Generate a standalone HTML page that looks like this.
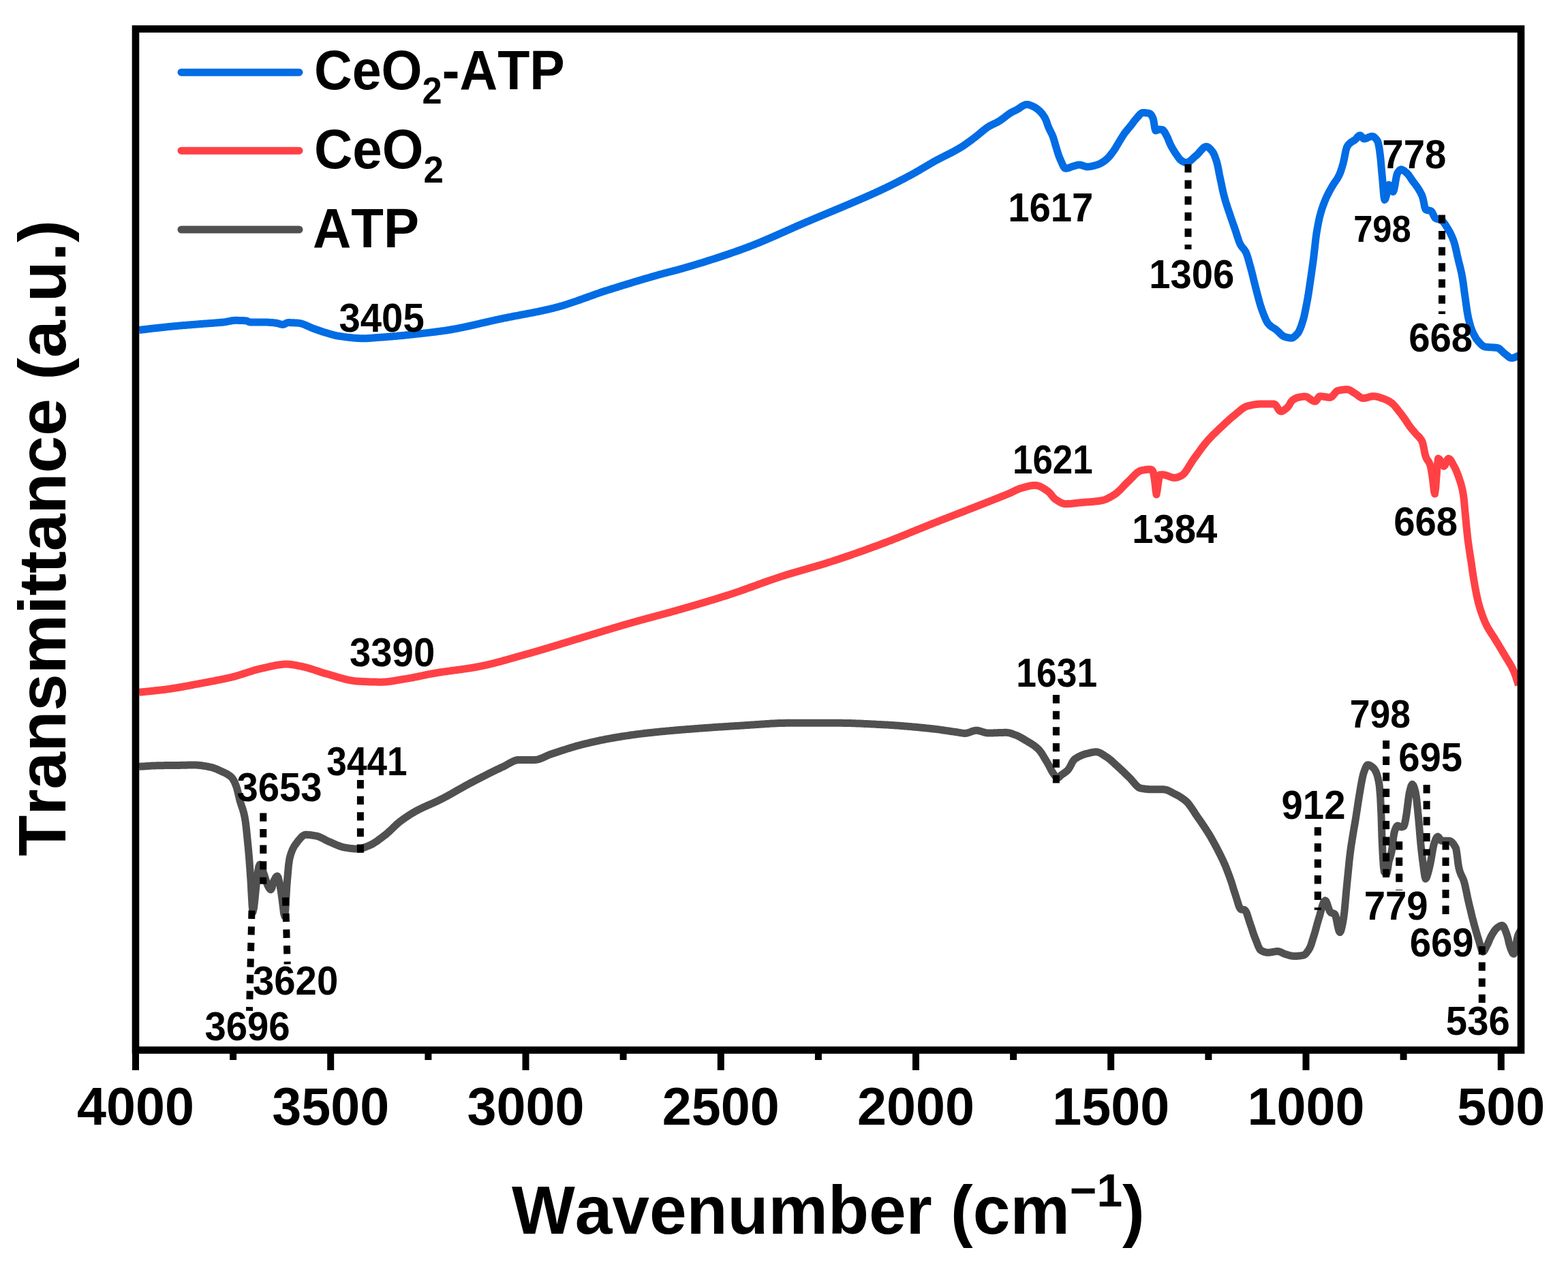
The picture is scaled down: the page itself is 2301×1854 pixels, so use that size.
<!DOCTYPE html>
<html><head><meta charset="utf-8"><title>FTIR spectra</title><style>
html,body{margin:0;padding:0;background:#fff;overflow:hidden;}
svg{display:block;}
text{font-family:"Liberation Sans",Arial,sans-serif;font-weight:bold;fill:#000;font-kerning:none;}
</style></head><body>
<svg width="2301" height="1854" viewBox="0 0 2301 1854">
<rect x="0" y="0" width="2301" height="1854" fill="#fff"/>
<polyline points="204.0,1125.3 205.4,1125.2 206.9,1125.1 208.3,1125.0 209.7,1125.0 211.1,1124.9 212.6,1124.8 214.0,1124.7 215.4,1124.6 216.8,1124.5 218.3,1124.4 219.7,1124.3 221.1,1124.2 222.5,1124.1 224.0,1124.1 225.4,1124.0 226.8,1123.9 228.2,1123.9 229.7,1123.8 231.1,1123.8 232.6,1123.8 234.1,1123.7 235.5,1123.7 237.0,1123.7 238.5,1123.7 240.0,1123.7 241.5,1123.6 242.9,1123.6 244.4,1123.6 245.9,1123.6 247.4,1123.6 248.9,1123.6 250.4,1123.5 251.8,1123.5 253.3,1123.5 254.8,1123.5 256.3,1123.5 257.8,1123.5 259.2,1123.4 260.7,1123.4 262.2,1123.4 263.7,1123.4 265.1,1123.3 266.6,1123.3 268.1,1123.3 269.5,1123.3 271.0,1123.2 272.4,1123.2 273.9,1123.2 275.4,1123.1 276.8,1123.1 278.3,1123.1 279.8,1123.0 281.2,1123.0 282.7,1123.0 284.1,1123.0 285.6,1123.0 287.1,1123.0 288.5,1123.1 290.0,1123.2 291.4,1123.3 292.9,1123.4 294.3,1123.6 295.8,1123.7 297.2,1124.0 298.7,1124.2 300.2,1124.4 301.6,1124.7 303.1,1124.9 304.5,1125.2 306.0,1125.5 307.4,1125.8 308.9,1126.1 310.3,1126.4 311.7,1126.8 313.1,1127.2 314.5,1127.7 315.9,1128.3 317.4,1128.8 318.8,1129.4 320.2,1130.1 321.6,1130.7 323.0,1131.3 324.4,1132.0 325.8,1132.6 327.2,1133.3 328.7,1133.9 330.1,1134.6 331.5,1135.3 332.9,1136.0 334.3,1136.9 335.7,1137.8 337.2,1138.8 338.6,1140.0 340.0,1141.3 341.4,1143.0 342.8,1145.3 344.2,1148.1 345.6,1151.4 347.0,1155.0 348.2,1159.1 349.5,1164.4 350.8,1169.9 352.0,1175.0 353.4,1179.7 354.8,1183.8 356.2,1187.9 357.6,1192.8 359.0,1198.9 360.4,1207.3 361.7,1218.5 363.0,1231.5 364.4,1245.5 365.6,1259.5 366.8,1275.4 368.0,1292.2 369.0,1310.7 370.1,1330.0 371.1,1338.9 372.6,1332.3 374.0,1320.0 375.5,1304.6 377.0,1290.0 378.4,1280.3 379.8,1272.3 381.2,1269.0 382.6,1270.1 383.9,1272.9 385.3,1276.8 386.6,1281.0 388.0,1285.0 389.2,1288.8 390.5,1293.0 391.8,1297.0 393.0,1300.0 394.5,1302.8 396.0,1305.1 397.5,1306.0 399.0,1303.3 400.5,1297.7 402.0,1293.0 403.2,1290.6 404.4,1288.3 405.7,1286.7 406.9,1286.0 408.3,1288.2 409.6,1293.6 411.0,1300.0 412.5,1309.2 414.0,1320.0 415.3,1330.2 416.5,1340.5 417.8,1345.1 418.8,1336.1 419.9,1317.2 420.9,1300.0 422.2,1284.2 423.5,1270.0 424.8,1261.0 426.2,1255.6 427.7,1251.1 429.1,1247.4 430.6,1244.4 432.0,1241.9 433.5,1239.8 434.9,1237.8 436.3,1236.0 437.7,1234.1 439.1,1232.4 440.5,1230.7 441.9,1229.2 443.3,1227.9 444.7,1226.8 446.1,1226.0 447.5,1225.5 448.9,1225.3 450.3,1225.3 451.7,1225.4 453.1,1225.5 454.5,1225.6 455.9,1225.8 457.4,1226.0 458.8,1226.2 460.2,1226.4 461.6,1226.7 463.0,1226.9 464.4,1227.2 465.8,1227.5 467.3,1228.0 468.7,1228.5 470.2,1229.1 471.6,1229.8 473.1,1230.5 474.5,1231.3 476.0,1232.0 477.4,1232.8 478.9,1233.6 480.3,1234.3 481.8,1235.0 483.2,1235.6 484.6,1236.2 486.1,1236.8 487.6,1237.5 489.0,1238.1 490.4,1238.7 491.9,1239.4 493.3,1240.0 494.8,1240.6 496.2,1241.2 497.7,1241.8 499.1,1242.3 500.6,1242.8 502.0,1243.2 503.5,1243.6 504.9,1243.9 506.4,1244.2 507.8,1244.4 509.3,1244.6 510.7,1244.9 512.1,1245.1 513.6,1245.3 515.0,1245.4 516.4,1245.6 517.8,1245.7 519.3,1245.9 520.7,1246.0 522.1,1246.0 523.6,1246.1 525.0,1246.1 526.5,1246.0 527.9,1245.9 529.4,1245.6 530.9,1245.2 532.4,1244.8 533.8,1244.3 535.3,1243.7 536.8,1243.2 538.3,1242.6 539.7,1242.0 541.2,1241.4 542.7,1240.8 544.1,1240.1 545.6,1239.4 547.0,1238.6 548.5,1237.7 549.9,1236.8 551.4,1235.9 552.8,1234.9 554.2,1233.9 555.7,1232.8 557.1,1231.8 558.6,1230.7 560.0,1229.6 561.5,1228.5 562.9,1227.4 564.4,1226.3 565.9,1225.2 567.3,1224.0 568.8,1222.7 570.2,1221.4 571.6,1220.1 573.1,1218.7 574.5,1217.3 576.0,1215.9 577.5,1214.5 578.9,1213.1 580.4,1211.7 581.8,1210.4 583.2,1209.1 584.7,1207.8 586.1,1206.6 587.6,1205.5 589.1,1204.4 590.5,1203.4 592.0,1202.3 593.4,1201.3 594.9,1200.3 596.3,1199.3 597.8,1198.3 599.2,1197.4 600.6,1196.4 602.1,1195.5 603.5,1194.6 605.0,1193.7 606.4,1192.9 607.9,1192.0 609.3,1191.2 610.8,1190.4 612.2,1189.6 613.7,1188.8 615.1,1188.1 616.6,1187.4 618.0,1186.7 619.5,1186.0 620.9,1185.3 622.4,1184.6 623.9,1184.0 625.3,1183.3 626.8,1182.7 628.2,1182.0 629.6,1181.4 631.1,1180.8 632.5,1180.1 634.0,1179.5 635.5,1178.9 636.9,1178.2 638.4,1177.6 639.8,1176.9 641.2,1176.2 642.7,1175.5 644.1,1174.8 645.6,1174.1 647.1,1173.3 648.6,1172.6 650.1,1171.8 651.6,1171.0 653.1,1170.2 654.6,1169.4 656.1,1168.6 657.6,1167.8 659.1,1166.9 660.6,1166.1 662.1,1165.3 663.6,1164.4 665.1,1163.6 666.6,1162.7 668.1,1161.9 669.5,1161.0 671.0,1160.2 672.5,1159.3 674.0,1158.5 675.5,1157.6 677.0,1156.8 678.5,1156.0 680.0,1155.1 681.5,1154.3 683.0,1153.4 684.5,1152.6 686.0,1151.8 687.5,1151.0 689.0,1150.2 690.5,1149.4 692.0,1148.6 693.5,1147.8 695.0,1147.0 696.5,1146.3 698.0,1145.5 699.5,1144.7 701.0,1143.9 702.5,1143.1 704.0,1142.4 705.5,1141.6 707.0,1140.8 708.5,1140.1 710.0,1139.3 711.5,1138.5 713.0,1137.8 714.5,1137.0 715.9,1136.2 717.4,1135.5 718.9,1134.7 720.4,1134.0 721.9,1133.3 723.4,1132.5 724.9,1131.8 726.4,1131.1 727.9,1130.3 729.4,1129.6 730.9,1128.9 732.4,1128.2 733.9,1127.5 735.4,1126.8 736.9,1126.1 738.4,1125.4 739.9,1124.7 741.3,1124.0 742.8,1123.2 744.2,1122.3 745.6,1121.5 747.1,1120.7 748.5,1119.9 750.0,1119.1 751.5,1118.3 752.9,1117.6 754.4,1117.0 755.8,1116.5 757.2,1116.0 758.7,1115.7 760.1,1115.5 761.6,1115.4 763.1,1115.4 764.5,1115.4 766.0,1115.4 767.4,1115.4 768.9,1115.4 770.3,1115.4 771.8,1115.4 773.2,1115.4 774.6,1115.4 776.1,1115.4 777.5,1115.4 779.0,1115.4 780.4,1115.4 781.9,1115.4 783.3,1115.4 784.8,1115.4 786.2,1115.3 787.7,1115.2 789.1,1114.9 790.6,1114.5 792.0,1114.0 793.5,1113.5 794.9,1112.9 796.4,1112.3 797.9,1111.7 799.3,1111.0 800.8,1110.3 802.2,1109.6 803.6,1109.0 805.1,1108.4 806.5,1107.8 808.0,1107.3 809.5,1106.8 811.0,1106.3 812.5,1105.8 814.0,1105.3 815.5,1104.8 817.0,1104.3 818.5,1103.8 820.0,1103.3 821.5,1102.8 823.0,1102.3 824.5,1101.8 826.0,1101.3 827.5,1100.9 829.0,1100.4 830.5,1099.9 831.9,1099.4 833.4,1098.9 834.9,1098.5 836.4,1098.0 837.9,1097.5 839.4,1097.1 840.9,1096.6 842.4,1096.2 843.9,1095.8 845.4,1095.3 846.9,1094.9 848.4,1094.5 849.9,1094.1 851.4,1093.7 852.9,1093.3 854.4,1092.9 855.9,1092.5 857.4,1092.2 858.9,1091.8 860.4,1091.4 861.9,1091.1 863.4,1090.7 864.9,1090.3 866.4,1090.0 867.9,1089.6 869.4,1089.3 870.9,1089.0 872.4,1088.6 873.9,1088.3 875.4,1088.0 876.9,1087.6 878.3,1087.3 879.8,1087.0 881.3,1086.7 882.8,1086.4 884.3,1086.1 885.8,1085.8 887.3,1085.5 888.8,1085.2 890.3,1084.9 891.8,1084.6 893.3,1084.3 894.8,1084.1 896.3,1083.8 897.8,1083.5 899.3,1083.3 900.8,1083.0 902.3,1082.7 903.8,1082.5 905.3,1082.2 906.8,1082.0 908.3,1081.8 909.7,1081.5 911.2,1081.3 912.7,1081.0 914.2,1080.8 915.7,1080.6 917.2,1080.3 918.7,1080.1 920.2,1079.9 921.7,1079.7 923.2,1079.5 924.7,1079.2 926.1,1079.0 927.6,1078.8 929.1,1078.6 930.6,1078.4 932.1,1078.2 933.6,1078.0 935.1,1077.8 936.6,1077.6 938.1,1077.4 939.6,1077.2 941.1,1077.1 942.5,1076.9 944.0,1076.7 945.5,1076.5 947.0,1076.3 948.5,1076.2 950.0,1076.0 951.5,1075.8 953.0,1075.7 954.4,1075.5 955.9,1075.4 957.4,1075.2 958.9,1075.0 960.4,1074.9 961.8,1074.7 963.3,1074.6 964.8,1074.4 966.3,1074.3 967.8,1074.1 969.3,1074.0 970.7,1073.8 972.2,1073.7 973.7,1073.6 975.2,1073.4 976.7,1073.3 978.1,1073.1 979.6,1073.0 981.1,1072.9 982.6,1072.7 984.1,1072.6 985.5,1072.5 987.0,1072.4 988.5,1072.2 990.0,1072.1 991.5,1072.0 992.9,1071.8 994.4,1071.7 995.9,1071.6 997.4,1071.5 998.9,1071.3 1000.3,1071.2 1001.8,1071.1 1003.3,1071.0 1004.8,1070.9 1006.3,1070.7 1007.8,1070.6 1009.2,1070.5 1010.7,1070.4 1012.2,1070.3 1013.7,1070.2 1015.2,1070.0 1016.6,1069.9 1018.1,1069.8 1019.6,1069.7 1021.1,1069.6 1022.6,1069.5 1024.0,1069.4 1025.5,1069.2 1027.0,1069.1 1028.5,1069.0 1030.0,1068.9 1031.4,1068.8 1032.9,1068.7 1034.4,1068.6 1035.9,1068.5 1037.4,1068.4 1038.9,1068.3 1040.3,1068.2 1041.8,1068.1 1043.3,1068.0 1044.8,1067.9 1046.3,1067.7 1047.7,1067.6 1049.2,1067.5 1050.7,1067.4 1052.2,1067.3 1053.7,1067.2 1055.1,1067.1 1056.6,1067.0 1058.1,1066.9 1059.6,1066.9 1061.1,1066.8 1062.5,1066.7 1064.0,1066.6 1065.5,1066.5 1067.0,1066.4 1068.5,1066.3 1069.9,1066.2 1071.4,1066.1 1072.9,1066.0 1074.4,1065.9 1075.9,1065.8 1077.4,1065.7 1078.8,1065.6 1080.3,1065.5 1081.8,1065.4 1083.3,1065.4 1084.8,1065.3 1086.2,1065.2 1087.7,1065.1 1089.2,1065.0 1090.7,1064.9 1092.2,1064.8 1093.6,1064.7 1095.1,1064.6 1096.6,1064.5 1098.1,1064.4 1099.6,1064.3 1101.0,1064.2 1102.5,1064.1 1104.0,1064.0 1105.5,1063.9 1107.0,1063.8 1108.5,1063.7 1109.9,1063.6 1111.4,1063.5 1112.9,1063.4 1114.4,1063.3 1115.9,1063.2 1117.3,1063.1 1118.8,1063.0 1120.3,1062.9 1121.8,1062.8 1123.3,1062.7 1124.7,1062.6 1126.2,1062.5 1127.7,1062.4 1129.2,1062.3 1130.7,1062.2 1132.1,1062.1 1133.6,1062.1 1135.1,1062.0 1136.6,1061.9 1138.1,1061.8 1139.5,1061.8 1141.0,1061.7 1142.5,1061.6 1144.0,1061.6 1145.5,1061.5 1147.0,1061.5 1148.4,1061.4 1149.9,1061.4 1151.4,1061.4 1152.9,1061.3 1154.4,1061.3 1155.8,1061.3 1157.3,1061.3 1158.8,1061.3 1160.3,1061.3 1161.8,1061.3 1163.2,1061.3 1164.7,1061.3 1166.2,1061.3 1167.7,1061.3 1169.2,1061.3 1170.6,1061.3 1172.1,1061.3 1173.6,1061.3 1175.1,1061.3 1176.6,1061.3 1178.1,1061.3 1179.5,1061.3 1181.0,1061.3 1182.5,1061.3 1184.0,1061.3 1185.5,1061.3 1186.9,1061.3 1188.4,1061.3 1189.9,1061.3 1191.4,1061.3 1192.9,1061.3 1194.3,1061.3 1195.8,1061.3 1197.3,1061.3 1198.8,1061.3 1200.3,1061.3 1201.7,1061.3 1203.2,1061.3 1204.7,1061.3 1206.2,1061.3 1207.7,1061.3 1209.1,1061.3 1210.6,1061.3 1212.1,1061.3 1213.6,1061.3 1215.1,1061.3 1216.6,1061.3 1218.0,1061.3 1219.5,1061.3 1221.0,1061.3 1222.5,1061.3 1224.0,1061.3 1225.4,1061.3 1226.9,1061.3 1228.4,1061.3 1229.9,1061.3 1231.4,1061.3 1232.8,1061.3 1234.3,1061.3 1235.8,1061.3 1237.3,1061.4 1238.8,1061.4 1240.2,1061.4 1241.7,1061.4 1243.2,1061.5 1244.7,1061.5 1246.2,1061.5 1247.7,1061.6 1249.1,1061.6 1250.6,1061.7 1252.1,1061.7 1253.6,1061.8 1255.1,1061.8 1256.5,1061.9 1258.0,1061.9 1259.5,1062.0 1261.0,1062.1 1262.5,1062.1 1263.9,1062.2 1265.4,1062.2 1266.9,1062.3 1268.4,1062.4 1269.9,1062.5 1271.3,1062.5 1272.8,1062.6 1274.3,1062.7 1275.8,1062.7 1277.3,1062.8 1278.7,1062.9 1280.2,1063.0 1281.7,1063.0 1283.2,1063.1 1284.7,1063.2 1286.2,1063.3 1287.6,1063.4 1289.1,1063.4 1290.6,1063.5 1292.1,1063.6 1293.6,1063.7 1295.0,1063.7 1296.5,1063.8 1298.0,1063.9 1299.5,1064.0 1301.0,1064.1 1302.4,1064.1 1303.9,1064.2 1305.4,1064.3 1306.9,1064.4 1308.4,1064.5 1309.8,1064.6 1311.3,1064.7 1312.8,1064.8 1314.3,1064.9 1315.8,1065.0 1317.3,1065.1 1318.7,1065.2 1320.2,1065.3 1321.7,1065.4 1323.2,1065.5 1324.7,1065.7 1326.1,1065.8 1327.6,1065.9 1329.1,1066.0 1330.6,1066.1 1332.1,1066.3 1333.5,1066.4 1335.0,1066.5 1336.5,1066.6 1338.0,1066.8 1339.5,1066.9 1340.9,1067.0 1342.4,1067.2 1343.9,1067.3 1345.4,1067.5 1346.9,1067.6 1348.3,1067.7 1349.8,1067.9 1351.3,1068.0 1352.8,1068.2 1354.3,1068.3 1355.8,1068.5 1357.2,1068.6 1358.7,1068.8 1360.2,1068.9 1361.7,1069.1 1363.2,1069.2 1364.6,1069.4 1366.1,1069.5 1367.6,1069.7 1369.0,1069.9 1370.5,1070.0 1371.9,1070.2 1373.4,1070.4 1374.8,1070.6 1376.3,1070.7 1377.8,1070.9 1379.2,1071.1 1380.7,1071.3 1382.1,1071.6 1383.5,1071.8 1385.0,1072.0 1386.5,1072.2 1387.9,1072.4 1389.3,1072.6 1390.8,1072.8 1392.2,1073.0 1393.7,1073.3 1395.2,1073.5 1396.6,1073.7 1398.1,1073.9 1399.5,1074.1 1401.0,1074.3 1402.4,1074.5 1403.8,1074.7 1405.2,1074.9 1406.6,1075.2 1408.0,1075.4 1409.4,1075.7 1410.8,1075.9 1412.2,1076.1 1413.6,1076.3 1415.0,1076.4 1416.4,1076.4 1417.9,1076.3 1419.3,1076.0 1420.8,1075.6 1422.3,1075.1 1423.8,1074.6 1425.2,1074.0 1426.7,1073.5 1428.2,1073.0 1429.7,1072.6 1431.1,1072.3 1432.6,1072.2 1434.0,1072.3 1435.5,1072.5 1436.9,1072.8 1438.4,1073.2 1439.8,1073.6 1441.3,1074.1 1442.8,1074.6 1444.2,1075.0 1445.7,1075.4 1447.1,1075.7 1448.5,1075.9 1450.0,1076.0 1451.5,1076.0 1453.0,1076.0 1454.5,1075.9 1456.0,1075.9 1457.4,1075.9 1458.9,1075.8 1460.4,1075.8 1461.9,1075.7 1463.4,1075.7 1464.9,1075.6 1466.4,1075.5 1467.9,1075.5 1469.4,1075.4 1470.8,1075.4 1472.3,1075.4 1473.8,1075.3 1475.3,1075.3 1476.8,1075.3 1478.3,1075.4 1479.8,1075.6 1481.2,1075.9 1482.7,1076.3 1484.2,1076.8 1485.7,1077.3 1487.1,1077.8 1488.6,1078.4 1490.1,1078.9 1491.5,1079.4 1492.9,1080.0 1494.3,1080.6 1495.7,1081.3 1497.1,1082.1 1498.4,1082.8 1499.8,1083.6 1501.2,1084.4 1502.6,1085.3 1504.0,1086.1 1505.4,1087.0 1506.8,1087.8 1508.2,1088.6 1509.6,1089.5 1511.0,1090.3 1512.4,1091.1 1513.8,1092.0 1515.2,1092.9 1516.5,1093.8 1517.9,1094.8 1519.3,1095.9 1520.7,1097.0 1522.1,1098.2 1523.5,1099.5 1525.0,1101.1 1526.5,1102.9 1528.0,1105.0 1529.5,1107.2 1530.9,1109.6 1532.4,1112.1 1533.9,1114.6 1535.4,1117.0 1536.9,1119.5 1538.3,1122.0 1539.8,1124.7 1541.2,1127.4 1542.6,1130.2 1544.0,1132.8 1545.5,1135.1 1546.9,1137.1 1548.2,1138.7 1549.5,1140.3 1550.7,1141.5 1552.0,1142.0 1553.2,1141.6 1554.5,1140.5 1555.8,1139.2 1557.0,1138.0 1558.4,1136.9 1559.9,1136.0 1561.3,1135.0 1562.7,1134.0 1564.1,1133.0 1565.6,1131.8 1567.0,1130.4 1568.4,1128.6 1569.9,1126.2 1571.3,1123.5 1572.7,1120.7 1574.1,1118.1 1575.6,1116.0 1577.0,1114.5 1578.4,1113.5 1579.9,1112.6 1581.3,1111.7 1582.7,1110.9 1584.1,1110.2 1585.6,1109.5 1587.0,1108.9 1588.4,1108.3 1589.9,1107.8 1591.3,1107.3 1592.7,1106.8 1594.1,1106.4 1595.6,1106.1 1597.0,1105.7 1598.5,1105.3 1599.9,1105.0 1601.4,1104.7 1602.8,1104.4 1604.3,1104.1 1605.8,1103.9 1607.2,1103.7 1608.7,1103.7 1610.1,1103.8 1611.4,1104.1 1612.8,1104.6 1614.2,1105.2 1615.6,1105.9 1616.9,1106.7 1618.3,1107.6 1619.7,1108.5 1621.1,1109.4 1622.4,1110.3 1623.8,1111.2 1625.2,1112.1 1626.6,1113.1 1628.0,1114.2 1629.4,1115.3 1630.8,1116.5 1632.2,1117.7 1633.5,1119.0 1634.9,1120.3 1636.3,1121.6 1637.7,1122.9 1639.1,1124.1 1640.5,1125.4 1641.9,1126.7 1643.3,1127.9 1644.7,1129.3 1646.1,1130.6 1647.5,1131.9 1648.8,1133.2 1650.2,1134.6 1651.6,1135.9 1653.0,1137.3 1654.4,1138.6 1655.8,1140.0 1657.2,1141.3 1658.6,1142.7 1660.0,1144.2 1661.4,1145.9 1662.8,1147.5 1664.2,1149.2 1665.6,1150.8 1666.9,1152.3 1668.3,1153.7 1669.7,1154.9 1671.1,1155.9 1672.5,1156.7 1673.9,1157.1 1675.3,1157.3 1676.7,1157.6 1678.1,1157.8 1679.5,1158.0 1680.9,1158.2 1682.2,1158.3 1683.6,1158.5 1685.0,1158.6 1686.4,1158.7 1687.8,1158.7 1689.2,1158.8 1690.6,1158.8 1692.0,1158.8 1693.4,1158.8 1694.8,1158.8 1696.2,1158.8 1697.6,1158.8 1698.9,1158.8 1700.3,1158.8 1701.7,1158.8 1703.1,1158.8 1704.5,1158.8 1705.9,1158.8 1707.3,1158.8 1708.7,1158.9 1710.1,1159.1 1711.5,1159.5 1712.9,1159.9 1714.3,1160.5 1715.7,1161.1 1717.0,1161.8 1718.4,1162.5 1719.8,1163.3 1721.2,1164.0 1722.6,1164.8 1724.0,1165.5 1725.4,1166.2 1726.8,1166.9 1728.2,1167.7 1729.6,1168.4 1731.0,1169.2 1732.3,1170.1 1733.7,1171.0 1735.1,1171.9 1736.5,1172.9 1737.9,1174.0 1739.3,1175.1 1740.7,1176.3 1742.1,1177.6 1743.5,1179.1 1744.8,1180.8 1746.2,1182.6 1747.6,1184.6 1749.0,1186.6 1750.4,1188.7 1751.8,1190.8 1753.2,1193.0 1754.5,1195.1 1755.9,1197.2 1757.3,1199.2 1758.7,1201.3 1760.2,1203.3 1761.6,1205.4 1763.1,1207.5 1764.5,1209.6 1765.9,1211.7 1767.4,1213.9 1768.8,1216.1 1770.3,1218.3 1771.7,1220.6 1773.2,1222.9 1774.6,1225.2 1776.1,1227.7 1777.6,1230.3 1779.1,1232.9 1780.6,1235.6 1782.1,1238.3 1783.6,1241.1 1785.1,1243.9 1786.6,1246.8 1788.1,1249.7 1789.6,1252.6 1791.1,1255.6 1792.5,1258.6 1794.0,1261.7 1795.5,1264.9 1797.0,1268.3 1798.5,1271.7 1799.9,1275.3 1801.3,1279.0 1802.8,1282.8 1804.2,1286.7 1805.7,1290.8 1807.1,1294.9 1808.5,1299.3 1809.8,1303.8 1811.2,1308.3 1812.6,1312.4 1814.0,1316.9 1815.5,1321.7 1816.9,1326.4 1818.3,1330.5 1819.8,1333.5 1821.2,1334.9 1822.5,1335.2 1823.8,1335.3 1825.1,1335.4 1826.4,1335.7 1827.8,1337.0 1829.3,1339.9 1830.7,1343.9 1832.1,1348.4 1833.6,1353.1 1835.0,1357.3 1836.4,1361.2 1837.8,1365.4 1839.1,1369.6 1840.5,1373.6 1841.9,1377.2 1843.4,1380.9 1844.8,1384.7 1846.2,1388.3 1847.7,1391.5 1849.1,1393.9 1850.6,1395.3 1852.1,1396.0 1853.5,1396.7 1855.0,1397.2 1856.5,1397.7 1858.0,1398.0 1859.4,1398.2 1860.9,1398.3 1862.3,1398.2 1863.7,1398.1 1865.1,1397.9 1866.5,1397.7 1867.8,1397.4 1869.2,1397.1 1870.6,1396.9 1872.0,1396.7 1873.4,1396.6 1874.8,1396.5 1876.1,1396.6 1877.5,1396.9 1878.8,1397.4 1880.2,1398.0 1881.5,1398.6 1882.9,1399.3 1884.2,1399.9 1885.6,1400.5 1886.9,1400.9 1888.4,1401.3 1889.9,1401.8 1891.4,1402.2 1892.9,1402.6 1894.4,1403.0 1895.9,1403.2 1897.4,1403.4 1898.9,1403.5 1900.3,1403.5 1901.7,1403.4 1903.1,1403.4 1904.5,1403.3 1905.8,1403.2 1907.2,1403.0 1908.6,1402.9 1910.0,1402.7 1911.4,1402.4 1912.8,1402.2 1914.2,1401.6 1915.7,1400.5 1917.1,1399.0 1918.5,1397.1 1920.0,1395.0 1921.4,1392.7 1922.8,1389.9 1924.2,1386.2 1925.5,1381.9 1926.9,1377.4 1928.3,1372.9 1929.7,1368.3 1931.1,1363.3 1932.4,1358.3 1933.8,1353.3 1935.2,1348.7 1936.6,1344.1 1937.9,1339.0 1939.3,1334.0 1940.6,1329.3 1942.0,1325.5 1943.3,1322.9 1944.7,1321.9 1946.0,1323.1 1947.3,1326.0 1948.6,1329.9 1949.9,1333.9 1951.2,1337.3 1952.5,1339.2 1953.7,1339.9 1954.9,1340.3 1956.2,1340.6 1957.4,1341.1 1958.6,1341.8 1959.9,1344.4 1961.2,1349.6 1962.4,1355.9 1963.7,1362.1 1965.0,1366.7 1966.3,1368.6 1967.6,1366.8 1968.9,1362.2 1970.2,1355.9 1971.5,1348.7 1972.8,1338.9 1974.1,1325.5 1975.4,1310.8 1976.7,1296.9 1977.9,1285.1 1979.1,1273.3 1980.2,1262.0 1981.4,1252.0 1982.8,1241.6 1984.3,1232.2 1985.7,1223.5 1987.1,1215.1 1988.6,1206.7 1990.0,1198.0 1991.5,1188.3 1993.0,1178.4 1994.5,1168.9 1996.0,1160.0 1997.2,1152.8 1998.5,1145.8 1999.8,1139.6 2001.0,1135.0 2002.3,1131.4 2003.5,1128.1 2004.8,1125.3 2006.0,1123.4 2007.3,1122.7 2008.6,1122.9 2010.0,1123.4 2011.3,1124.1 2012.7,1125.0 2014.0,1126.0 2015.2,1127.1 2016.5,1128.5 2017.7,1130.3 2018.9,1132.5 2020.2,1135.6 2021.6,1139.9 2023.0,1145.9 2024.3,1153.9 2025.7,1170.6 2027.0,1198.0 2028.0,1230.0 2029.1,1253.6 2030.3,1271.9 2031.4,1280.0 2032.6,1281.1 2033.8,1281.8 2035.0,1282.0 2036.5,1275.2 2038.0,1265.0 2039.4,1260.0 2040.7,1255.8 2042.1,1250.4 2043.4,1241.2 2044.7,1229.8 2046.0,1222.0 2047.2,1218.2 2048.5,1215.0 2049.8,1212.8 2051.0,1212.0 2052.2,1212.3 2053.5,1213.0 2054.8,1213.7 2056.0,1214.0 2057.3,1213.9 2058.7,1213.5 2060.0,1212.9 2061.3,1209.6 2062.7,1202.8 2064.0,1195.0 2065.3,1185.2 2066.7,1173.7 2068.0,1165.0 2069.5,1158.5 2071.0,1153.4 2072.5,1151.3 2074.0,1152.8 2075.5,1156.8 2077.0,1162.0 2078.5,1170.7 2079.9,1184.0 2081.4,1198.6 2082.6,1211.9 2083.8,1226.7 2085.0,1240.0 2086.2,1251.1 2087.4,1261.1 2088.6,1270.0 2089.7,1278.7 2090.9,1286.5 2092.0,1290.0 2093.3,1288.4 2094.7,1284.5 2096.0,1280.0 2097.3,1274.9 2098.7,1268.6 2100.0,1262.0 2101.3,1254.3 2102.7,1246.0 2104.0,1240.0 2105.5,1235.6 2107.0,1231.7 2108.5,1229.0 2110.0,1228.0 2111.3,1229.0 2112.7,1231.2 2114.1,1233.3 2115.4,1234.3 2116.7,1234.3 2118.1,1234.3 2119.4,1234.3 2120.7,1234.3 2122.0,1234.3 2123.3,1234.3 2124.7,1234.3 2126.0,1234.3 2127.3,1234.5 2128.7,1235.0 2130.1,1235.9 2131.4,1237.2 2132.8,1238.8 2134.1,1240.8 2135.5,1243.1 2136.8,1245.9 2138.3,1255.6 2139.8,1268.0 2140.9,1274.2 2142.1,1278.9 2143.6,1282.8 2145.0,1285.8 2146.4,1288.7 2147.9,1292.3 2149.4,1297.5 2150.8,1303.8 2152.3,1310.8 2153.7,1317.9 2155.2,1324.5 2156.5,1330.1 2157.9,1335.7 2159.2,1341.2 2160.5,1346.6 2161.9,1351.8 2163.2,1356.8 2164.6,1361.8 2165.9,1366.6 2167.3,1371.2 2168.6,1375.7 2170.0,1380.0 2171.2,1384.2 2172.4,1388.7 2173.7,1392.9 2174.9,1395.9 2176.1,1397.1 2177.6,1396.2 2179.1,1393.9 2180.5,1390.9 2182.0,1388.0 2183.4,1385.2 2184.8,1382.0 2186.2,1378.7 2187.6,1375.6 2189.0,1372.9 2190.3,1370.7 2191.7,1368.5 2193.0,1366.5 2194.3,1364.7 2195.7,1363.2 2197.0,1362.0 2198.5,1361.0 2200.0,1360.0 2201.4,1359.2 2202.9,1358.6 2204.4,1358.4 2205.8,1359.3 2207.3,1361.6 2208.7,1365.0 2210.2,1368.9 2211.6,1372.9 2213.1,1378.3 2214.5,1384.7 2216.0,1390.0 2217.3,1393.6 2218.7,1396.9 2220.0,1399.3 2221.3,1400.3 2222.6,1398.0 2223.9,1392.2 2225.1,1384.9 2226.4,1377.8 2227.7,1372.9 2229.1,1369.8 2230.6,1367.3 2232.0,1364.8" fill="none" stroke="#505050" stroke-width="11" stroke-linejoin="round" stroke-linecap="butt"/>
<polyline points="204.0,1016.3 205.5,1016.1 206.9,1016.0 208.4,1015.8 209.8,1015.7 211.3,1015.5 212.8,1015.4 214.2,1015.2 215.7,1015.1 217.2,1014.9 218.6,1014.8 220.1,1014.6 221.5,1014.5 223.0,1014.3 224.5,1014.2 225.9,1014.0 227.4,1013.8 228.9,1013.7 230.3,1013.5 231.8,1013.4 233.2,1013.2 234.7,1013.0 236.2,1012.9 237.6,1012.7 239.1,1012.5 240.6,1012.4 242.0,1012.2 243.5,1012.0 244.9,1011.8 246.4,1011.6 247.9,1011.4 249.4,1011.2 250.9,1011.0 252.4,1010.7 253.9,1010.5 255.4,1010.3 256.9,1010.0 258.4,1009.8 259.9,1009.5 261.4,1009.3 262.9,1009.0 264.4,1008.8 265.9,1008.5 267.4,1008.3 268.9,1008.0 270.3,1007.7 271.8,1007.4 273.3,1007.2 274.8,1006.9 276.3,1006.6 277.8,1006.3 279.3,1006.0 280.8,1005.8 282.3,1005.5 283.8,1005.2 285.3,1004.9 286.8,1004.6 288.3,1004.3 289.8,1004.1 291.3,1003.8 292.8,1003.5 294.3,1003.2 295.8,1002.9 297.3,1002.7 298.8,1002.4 300.3,1002.1 301.8,1001.8 303.3,1001.6 304.8,1001.3 306.3,1001.0 307.8,1000.7 309.3,1000.4 310.8,1000.1 312.3,999.9 313.8,999.6 315.3,999.3 316.7,999.0 318.2,998.7 319.7,998.4 321.2,998.1 322.7,997.8 324.2,997.5 325.7,997.2 327.2,996.9 328.7,996.6 330.2,996.2 331.7,995.9 333.2,995.6 334.7,995.2 336.2,994.9 337.7,994.6 339.2,994.2 340.7,993.8 342.2,993.5 343.7,993.1 345.2,992.7 346.7,992.2 348.2,991.8 349.7,991.4 351.2,990.9 352.7,990.4 354.2,990.0 355.7,989.5 357.2,989.0 358.7,988.5 360.2,988.1 361.7,987.6 363.1,987.1 364.6,986.6 366.1,986.1 367.6,985.7 369.1,985.2 370.6,984.7 372.1,984.3 373.6,983.8 375.1,983.4 376.6,983.0 378.1,982.6 379.6,982.2 381.1,981.8 382.6,981.5 384.1,981.1 385.6,980.8 387.1,980.5 388.5,980.2 390.0,979.9 391.4,979.5 392.9,979.2 394.3,978.9 395.8,978.5 397.2,978.2 398.6,977.9 400.1,977.6 401.6,977.3 403.0,977.0 404.4,976.7 405.9,976.4 407.4,976.2 408.8,976.0 410.2,975.8 411.7,975.6 413.1,975.4 414.6,975.3 416.0,975.1 417.5,975.1 418.9,975.0 420.4,975.0 421.8,975.0 423.3,975.1 424.8,975.2 426.2,975.3 427.6,975.5 429.1,975.7 430.6,975.9 432.0,976.2 433.4,976.4 434.9,976.7 436.4,977.0 437.8,977.3 439.2,977.6 440.7,977.9 442.2,978.2 443.6,978.5 445.1,978.8 446.5,979.1 448.0,979.5 449.4,979.8 450.9,980.2 452.3,980.6 453.8,981.1 455.2,981.5 456.6,982.0 458.1,982.4 459.6,982.9 461.0,983.4 462.4,983.9 463.9,984.4 465.4,984.8 466.8,985.3 468.2,985.8 469.7,986.3 471.1,986.8 472.6,987.2 474.0,987.7 475.5,988.1 476.9,988.5 478.4,988.9 479.9,989.3 481.4,989.7 482.9,990.1 484.4,990.6 485.9,991.0 487.4,991.5 488.9,991.9 490.4,992.4 491.9,992.8 493.4,993.3 494.9,993.7 496.4,994.2 497.9,994.6 499.4,995.0 500.9,995.5 502.3,995.9 503.8,996.3 505.3,996.7 506.8,997.0 508.3,997.4 509.8,997.8 511.3,998.1 512.8,998.4 514.3,998.7 515.8,998.9 517.3,999.2 518.8,999.4 520.3,999.6 521.8,999.8 523.3,999.9 524.8,1000.0 526.2,1000.1 527.7,1000.2 529.1,1000.2 530.6,1000.3 532.0,1000.4 533.5,1000.5 534.9,1000.5 536.4,1000.6 537.9,1000.7 539.3,1000.7 540.8,1000.8 542.2,1000.9 543.6,1000.9 545.1,1001.0 546.5,1001.0 548.0,1001.0 549.5,1001.1 550.9,1001.1 552.4,1001.1 553.8,1001.2 555.2,1001.2 556.7,1001.2 558.1,1001.2 559.6,1001.2 561.1,1001.2 562.5,1001.1 564.0,1001.1 565.4,1001.0 566.9,1000.9 568.3,1000.7 569.8,1000.6 571.2,1000.4 572.6,1000.2 574.1,1000.0 575.5,999.8 577.0,999.6 578.5,999.3 579.9,999.1 581.4,998.8 582.8,998.6 584.2,998.3 585.7,998.1 587.1,997.8 588.6,997.6 590.0,997.3 591.5,997.1 592.9,996.8 594.4,996.6 595.9,996.4 597.4,996.1 598.9,995.9 600.4,995.6 601.9,995.3 603.4,995.1 604.9,994.8 606.4,994.5 607.9,994.2 609.4,993.9 610.9,993.6 612.4,993.3 613.9,993.0 615.4,992.7 616.9,992.4 618.3,992.1 619.8,991.8 621.3,991.4 622.8,991.1 624.3,990.8 625.8,990.5 627.3,990.2 628.8,989.9 630.3,989.6 631.8,989.3 633.3,989.0 634.8,988.8 636.3,988.5 637.8,988.2 639.3,988.0 640.8,987.7 642.3,987.5 643.8,987.2 645.2,987.0 646.7,986.8 648.2,986.5 649.7,986.3 651.2,986.1 652.6,985.9 654.1,985.7 655.6,985.5 657.1,985.3 658.6,985.1 660.0,984.9 661.5,984.7 663.0,984.5 664.5,984.3 666.0,984.1 667.4,983.9 668.9,983.7 670.4,983.5 671.9,983.3 673.4,983.1 674.8,982.9 676.3,982.7 677.8,982.5 679.3,982.3 680.8,982.1 682.2,981.9 683.7,981.7 685.2,981.4 686.7,981.2 688.2,981.0 689.6,980.8 691.1,980.5 692.6,980.3 694.1,980.0 695.6,979.8 697.0,979.5 698.5,979.3 700.0,979.0 701.5,978.7 703.0,978.4 704.5,978.1 705.9,977.8 707.4,977.5 708.9,977.2 710.4,976.9 711.9,976.6 713.4,976.2 714.8,975.9 716.3,975.6 717.8,975.2 719.3,974.9 720.8,974.5 722.3,974.1 723.7,973.8 725.2,973.4 726.7,973.0 728.2,972.6 729.7,972.2 731.2,971.8 732.6,971.5 734.1,971.1 735.6,970.7 737.1,970.3 738.6,969.8 740.1,969.4 741.6,969.0 743.0,968.6 744.5,968.2 746.0,967.8 747.5,967.4 749.0,966.9 750.5,966.5 751.9,966.1 753.4,965.7 754.9,965.3 756.4,964.8 757.9,964.4 759.4,964.0 760.8,963.6 762.3,963.1 763.8,962.7 765.3,962.3 766.8,961.9 768.3,961.5 769.7,961.0 771.2,960.6 772.7,960.2 774.2,959.8 775.7,959.4 777.2,959.0 778.7,958.6 780.1,958.1 781.6,957.7 783.1,957.3 784.6,956.9 786.1,956.4 787.6,956.0 789.1,955.6 790.5,955.1 792.0,954.7 793.5,954.3 795.0,953.8 796.5,953.4 798.0,952.9 799.5,952.5 800.9,952.0 802.4,951.6 803.9,951.2 805.4,950.7 806.9,950.3 808.4,949.8 809.9,949.4 811.4,948.9 812.8,948.5 814.3,948.0 815.8,947.5 817.3,947.1 818.8,946.6 820.3,946.2 821.8,945.7 823.2,945.3 824.7,944.8 826.2,944.4 827.7,943.9 829.2,943.5 830.7,943.0 832.2,942.6 833.6,942.1 835.1,941.6 836.6,941.2 838.1,940.7 839.6,940.3 841.1,939.8 842.6,939.4 844.0,938.9 845.5,938.5 847.0,938.0 848.5,937.6 850.0,937.2 851.5,936.7 853.0,936.3 854.4,935.8 855.9,935.4 857.4,934.9 858.9,934.5 860.4,934.0 861.9,933.6 863.3,933.1 864.8,932.7 866.3,932.2 867.8,931.8 869.3,931.3 870.8,930.9 872.2,930.4 873.7,930.0 875.2,929.5 876.7,929.0 878.2,928.6 879.7,928.1 881.1,927.7 882.6,927.2 884.1,926.8 885.6,926.3 887.1,925.9 888.6,925.4 890.1,925.0 891.5,924.5 893.0,924.1 894.5,923.6 896.0,923.2 897.5,922.7 899.0,922.3 900.4,921.8 901.9,921.4 903.4,921.0 904.9,920.5 906.4,920.1 907.9,919.6 909.3,919.2 910.8,918.8 912.3,918.3 913.8,917.9 915.3,917.4 916.8,917.0 918.2,916.6 919.7,916.2 921.2,915.7 922.7,915.3 924.2,914.9 925.7,914.5 927.2,914.0 928.6,913.6 930.1,913.2 931.6,912.8 933.1,912.4 934.6,912.0 936.1,911.5 937.6,911.1 939.0,910.7 940.5,910.3 942.0,909.9 943.5,909.5 945.0,909.1 946.5,908.7 948.0,908.3 949.4,907.9 950.9,907.5 952.4,907.1 953.9,906.7 955.4,906.3 956.9,905.9 958.4,905.5 959.9,905.1 961.3,904.7 962.8,904.3 964.3,903.9 965.8,903.5 967.3,903.1 968.8,902.7 970.3,902.3 971.7,901.9 973.2,901.5 974.7,901.1 976.2,900.7 977.7,900.3 979.2,899.9 980.7,899.5 982.1,899.1 983.6,898.7 985.1,898.2 986.6,897.8 988.1,897.4 989.6,897.0 991.1,896.6 992.5,896.2 994.0,895.7 995.5,895.3 997.0,894.9 998.5,894.5 1000.0,894.0 1001.5,893.6 1002.9,893.2 1004.4,892.8 1005.9,892.3 1007.4,891.9 1008.9,891.5 1010.4,891.1 1011.8,890.6 1013.3,890.2 1014.8,889.8 1016.3,889.3 1017.8,888.9 1019.3,888.5 1020.7,888.0 1022.2,887.6 1023.7,887.2 1025.2,886.7 1026.7,886.3 1028.2,885.9 1029.6,885.4 1031.1,885.0 1032.6,884.5 1034.1,884.1 1035.6,883.6 1037.1,883.2 1038.6,882.8 1040.0,882.3 1041.5,881.9 1043.0,881.4 1044.5,881.0 1046.0,880.5 1047.5,880.1 1048.9,879.6 1050.4,879.1 1051.9,878.7 1053.4,878.2 1054.9,877.8 1056.4,877.3 1057.8,876.8 1059.3,876.4 1060.8,875.9 1062.3,875.4 1063.8,875.0 1065.3,874.5 1066.7,874.0 1068.2,873.6 1069.7,873.1 1071.2,872.6 1072.7,872.1 1074.2,871.6 1075.7,871.1 1077.1,870.6 1078.6,870.1 1080.1,869.6 1081.6,869.1 1083.1,868.6 1084.6,868.1 1086.0,867.6 1087.5,867.1 1089.0,866.5 1090.5,866.0 1092.0,865.5 1093.5,865.0 1094.9,864.4 1096.4,863.9 1097.9,863.4 1099.4,862.8 1100.9,862.3 1102.4,861.7 1103.8,861.2 1105.3,860.7 1106.8,860.1 1108.3,859.6 1109.8,859.1 1111.3,858.5 1112.8,858.0 1114.2,857.4 1115.7,856.9 1117.2,856.4 1118.7,855.8 1120.2,855.3 1121.7,854.8 1123.1,854.2 1124.6,853.7 1126.1,853.2 1127.6,852.6 1129.1,852.1 1130.6,851.6 1132.0,851.1 1133.5,850.6 1135.0,850.1 1136.5,849.6 1138.0,849.1 1139.5,848.6 1140.9,848.1 1142.4,847.6 1143.9,847.1 1145.4,846.6 1146.9,846.1 1148.4,845.6 1149.9,845.2 1151.3,844.7 1152.8,844.3 1154.3,843.8 1155.8,843.3 1157.3,842.9 1158.8,842.4 1160.3,842.0 1161.7,841.5 1163.2,841.1 1164.7,840.7 1166.2,840.2 1167.7,839.8 1169.2,839.4 1170.7,838.9 1172.1,838.5 1173.6,838.1 1175.1,837.6 1176.6,837.2 1178.1,836.8 1179.6,836.4 1181.1,835.9 1182.6,835.5 1184.0,835.1 1185.5,834.6 1187.0,834.2 1188.5,833.8 1190.0,833.4 1191.5,832.9 1193.0,832.5 1194.4,832.1 1195.9,831.6 1197.4,831.2 1198.9,830.8 1200.4,830.3 1201.9,829.9 1203.4,829.5 1204.8,829.0 1206.3,828.6 1207.8,828.1 1209.3,827.7 1210.8,827.2 1212.3,826.7 1213.8,826.3 1215.2,825.8 1216.7,825.4 1218.2,824.9 1219.7,824.4 1221.2,823.9 1222.7,823.4 1224.2,823.0 1225.6,822.5 1227.1,822.0 1228.6,821.5 1230.1,821.0 1231.6,820.5 1233.1,820.0 1234.5,819.5 1236.0,819.0 1237.5,818.5 1239.0,818.0 1240.5,817.5 1242.0,817.0 1243.4,816.5 1244.9,816.0 1246.4,815.5 1247.9,815.0 1249.4,814.5 1250.9,813.9 1252.3,813.4 1253.8,812.9 1255.3,812.4 1256.8,811.9 1258.3,811.3 1259.8,810.8 1261.3,810.3 1262.7,809.8 1264.2,809.2 1265.7,808.7 1267.2,808.2 1268.7,807.7 1270.2,807.1 1271.6,806.6 1273.1,806.0 1274.6,805.5 1276.1,805.0 1277.6,804.4 1279.1,803.9 1280.5,803.3 1282.0,802.8 1283.5,802.3 1285.0,801.7 1286.5,801.2 1288.0,800.6 1289.4,800.1 1290.9,799.5 1292.4,799.0 1293.9,798.4 1295.4,797.8 1296.9,797.3 1298.4,796.7 1299.8,796.2 1301.3,795.6 1302.8,795.0 1304.3,794.4 1305.8,793.9 1307.3,793.3 1308.8,792.7 1310.2,792.1 1311.7,791.5 1313.2,790.9 1314.7,790.3 1316.2,789.8 1317.7,789.2 1319.2,788.6 1320.6,788.0 1322.1,787.4 1323.6,786.8 1325.1,786.2 1326.6,785.6 1328.1,785.0 1329.6,784.4 1331.1,783.8 1332.5,783.1 1334.0,782.5 1335.5,781.9 1337.0,781.3 1338.5,780.7 1340.0,780.1 1341.5,779.5 1342.9,778.9 1344.4,778.3 1345.9,777.7 1347.4,777.1 1348.9,776.5 1350.4,775.9 1351.9,775.3 1353.3,774.7 1354.8,774.1 1356.3,773.5 1357.8,772.9 1359.3,772.3 1360.8,771.7 1362.3,771.1 1363.7,770.5 1365.2,769.9 1366.7,769.3 1368.2,768.7 1369.7,768.1 1371.2,767.5 1372.7,766.9 1374.1,766.4 1375.6,765.8 1377.1,765.2 1378.6,764.6 1380.1,764.0 1381.6,763.4 1383.0,762.9 1384.5,762.3 1386.0,761.7 1387.5,761.1 1389.0,760.6 1390.5,760.0 1391.9,759.4 1393.4,758.8 1394.9,758.2 1396.4,757.7 1397.9,757.1 1399.4,756.5 1400.8,755.9 1402.3,755.4 1403.8,754.8 1405.3,754.2 1406.8,753.6 1408.3,753.0 1409.8,752.5 1411.2,751.9 1412.7,751.3 1414.2,750.7 1415.7,750.2 1417.2,749.6 1418.7,749.0 1420.1,748.4 1421.6,747.8 1423.1,747.3 1424.6,746.7 1426.1,746.1 1427.6,745.5 1429.0,745.0 1430.5,744.4 1432.0,743.8 1433.5,743.2 1435.0,742.6 1436.5,742.0 1437.9,741.5 1439.4,740.9 1440.9,740.3 1442.4,739.7 1443.8,739.1 1445.3,738.6 1446.7,738.0 1448.2,737.4 1449.6,736.9 1451.1,736.3 1452.5,735.7 1454.0,735.1 1455.4,734.6 1456.9,734.0 1458.3,733.4 1459.8,732.9 1461.2,732.3 1462.6,731.7 1464.1,731.2 1465.5,730.6 1467.0,730.0 1468.4,729.4 1469.9,728.8 1471.3,728.3 1472.8,727.7 1474.2,727.1 1475.7,726.5 1477.1,725.9 1478.6,725.3 1480.0,724.7 1481.5,724.1 1483.0,723.4 1484.5,722.7 1486.0,722.0 1487.5,721.2 1489.0,720.5 1490.5,719.8 1492.0,719.1 1493.5,718.5 1495.0,717.8 1496.5,717.3 1498.0,716.7 1499.5,716.3 1501.0,715.9 1502.5,715.5 1504.0,715.0 1505.5,714.6 1507.0,714.2 1508.5,713.9 1510.0,713.5 1511.5,713.2 1513.0,712.9 1514.5,712.7 1516.0,712.5 1517.5,712.4 1519.0,712.4 1520.5,712.5 1522.0,712.7 1523.5,713.1 1525.0,713.6 1526.5,714.3 1528.0,715.0 1529.5,715.8 1531.0,716.7 1532.5,717.7 1534.0,718.7 1535.5,719.7 1537.0,720.7 1538.5,721.8 1539.9,723.0 1541.3,724.5 1542.7,726.3 1544.0,728.1 1545.4,729.8 1546.8,731.3 1548.2,732.5 1549.6,733.5 1551.0,734.4 1552.5,735.3 1553.9,736.2 1555.3,737.0 1556.7,737.8 1558.1,738.4 1559.5,739.0 1561.0,739.4 1562.4,739.6 1563.8,739.7 1565.3,739.7 1566.7,739.6 1568.2,739.6 1569.7,739.5 1571.1,739.4 1572.6,739.3 1574.0,739.1 1575.5,739.0 1577.0,738.8 1578.4,738.6 1579.9,738.5 1581.3,738.3 1582.8,738.1 1584.3,738.0 1585.7,737.8 1587.2,737.7 1588.7,737.6 1590.1,737.4 1591.6,737.3 1593.0,737.2 1594.5,737.1 1596.0,737.0 1597.4,736.9 1598.9,736.8 1600.3,736.7 1601.8,736.5 1603.3,736.4 1604.7,736.3 1606.2,736.1 1607.6,736.0 1609.1,735.8 1610.6,735.7 1612.0,735.5 1613.5,735.3 1614.9,735.0 1616.4,734.8 1617.9,734.5 1619.4,734.1 1620.9,733.6 1622.4,733.1 1623.9,732.4 1625.4,731.7 1626.9,731.0 1628.4,730.2 1629.9,729.3 1631.4,728.5 1632.9,727.6 1634.4,726.6 1635.9,725.7 1637.4,724.7 1638.9,723.5 1640.4,722.2 1641.9,720.8 1643.4,719.4 1644.9,717.8 1646.4,716.3 1647.9,714.7 1649.4,713.1 1650.9,711.5 1652.4,710.0 1653.9,708.5 1655.4,707.1 1656.9,705.7 1658.4,704.2 1659.9,702.6 1661.4,701.0 1662.9,699.5 1664.4,697.9 1665.9,696.4 1667.4,695.0 1668.9,693.7 1670.4,692.6 1671.9,691.7 1673.4,691.0 1674.9,690.6 1676.3,690.3 1677.6,690.1 1679.0,689.9 1680.3,689.6 1681.7,689.5 1683.1,689.3 1684.4,689.2 1685.8,689.1 1687.1,689.0 1688.5,689.0 1689.7,689.4 1690.8,690.4 1692.0,692.0 1693.5,699.0 1695.0,710.0 1696.0,719.7 1697.0,726.0 1698.2,719.8 1699.5,710.0 1700.8,701.7 1702.0,697.0 1703.3,696.9 1704.7,696.8 1706.0,696.8 1707.5,696.9 1708.9,697.1 1710.4,697.5 1711.9,698.0 1713.3,698.5 1714.8,699.0 1716.3,699.6 1717.7,700.1 1719.2,700.6 1720.7,701.0 1722.1,701.2 1723.6,701.3 1725.0,701.2 1726.4,701.0 1727.8,700.6 1729.2,700.2 1730.6,699.6 1732.0,699.0 1733.4,698.4 1734.9,697.5 1736.4,696.3 1737.9,694.7 1739.4,692.9 1740.9,690.8 1742.4,688.6 1743.9,686.2 1745.4,683.7 1746.9,681.3 1748.4,678.8 1749.9,676.5 1751.4,674.2 1752.9,672.1 1754.4,670.1 1755.9,668.1 1757.4,666.0 1758.9,664.0 1760.4,662.0 1761.9,659.9 1763.3,657.9 1764.8,655.9 1766.3,654.0 1767.8,652.1 1769.3,650.2 1770.8,648.4 1772.3,646.7 1773.8,645.0 1775.3,643.4 1776.8,641.8 1778.3,640.2 1779.8,638.7 1781.3,637.2 1782.8,635.8 1784.3,634.3 1785.8,632.9 1787.3,631.4 1788.8,630.0 1790.3,628.6 1791.8,627.2 1793.3,625.8 1794.8,624.4 1796.3,622.9 1797.8,621.5 1799.3,620.1 1800.8,618.8 1802.3,617.4 1803.8,616.0 1805.3,614.7 1806.8,613.4 1808.3,612.1 1809.8,610.9 1811.3,609.7 1812.8,608.5 1814.3,607.2 1815.8,605.9 1817.3,604.7 1818.8,603.4 1820.3,602.1 1821.8,600.9 1823.3,599.8 1824.8,598.8 1826.3,597.9 1827.8,597.1 1829.3,596.5 1830.8,596.0 1832.3,595.6 1833.8,595.3 1835.3,595.0 1836.8,594.6 1838.3,594.3 1839.8,594.1 1841.3,593.8 1842.8,593.6 1844.3,593.4 1845.8,593.3 1847.3,593.2 1848.8,593.1 1850.3,593.1 1851.8,593.1 1853.3,593.1 1854.8,593.1 1856.3,593.1 1857.8,593.1 1859.3,593.1 1860.8,593.1 1862.3,593.1 1863.8,593.1 1865.3,593.1 1866.8,593.1 1868.3,593.1 1869.8,593.1 1871.2,593.7 1872.6,595.2 1874.0,597.4 1875.3,599.6 1876.7,601.8 1878.1,603.3 1879.5,603.9 1880.9,603.7 1882.3,603.2 1883.7,602.5 1885.1,601.5 1886.5,600.4 1887.9,599.2 1889.3,598.0 1890.8,596.3 1892.3,594.0 1893.7,591.4 1895.2,589.2 1896.7,587.6 1898.1,586.6 1899.5,585.7 1900.9,584.9 1902.3,584.3 1903.7,583.8 1905.1,583.4 1906.5,583.1 1908.0,582.8 1909.4,582.6 1910.8,582.4 1912.2,582.2 1913.7,582.1 1915.1,582.1 1916.6,582.3 1918.1,582.8 1919.6,583.7 1921.1,584.6 1922.6,585.7 1924.1,586.8 1925.6,587.7 1927.1,588.6 1928.6,589.1 1930.1,589.3 1931.4,588.5 1932.8,586.6 1934.1,584.4 1935.5,582.5 1936.8,581.7 1938.3,581.7 1939.8,581.9 1941.3,582.1 1942.8,582.3 1944.3,582.5 1945.8,582.8 1947.3,583.0 1948.8,583.2 1950.3,583.4 1951.8,583.4 1953.3,583.0 1954.7,582.0 1956.2,580.5 1957.7,578.7 1959.1,576.9 1960.6,575.3 1962.0,574.1 1963.5,573.4 1965.0,573.1 1966.5,572.8 1968.0,572.5 1969.5,572.3 1970.9,572.1 1972.4,571.9 1973.9,571.8 1975.4,571.7 1976.9,571.7 1978.4,571.9 1979.8,572.3 1981.3,573.0 1982.8,573.8 1984.2,574.8 1985.7,575.8 1987.1,576.7 1988.6,577.6 1990.1,578.5 1991.5,579.6 1993.0,580.8 1994.4,581.9 1995.9,582.9 1997.4,583.8 1998.8,584.4 2000.3,584.6 2001.8,584.5 2003.3,584.3 2004.8,584.0 2006.3,583.6 2007.8,583.2 2009.3,582.7 2010.8,582.3 2012.3,582.0 2013.8,581.8 2015.3,581.7 2016.7,581.7 2018.0,581.9 2019.4,582.1 2020.8,582.4 2022.2,582.7 2023.5,583.1 2024.9,583.5 2026.3,584.0 2027.7,584.5 2029.0,584.9 2030.4,585.4 2031.9,585.9 2033.3,586.5 2034.8,587.1 2036.2,587.8 2037.7,588.6 2039.1,589.4 2040.5,590.3 2042.0,591.3 2043.4,592.5 2044.9,593.9 2046.3,595.5 2047.8,597.2 2049.2,599.0 2050.7,600.8 2052.1,602.6 2053.5,604.4 2055.0,606.2 2056.4,608.1 2057.8,610.0 2059.2,612.0 2060.7,614.0 2062.1,616.0 2063.4,618.0 2064.8,620.0 2066.1,622.1 2067.5,624.1 2068.8,626.0 2070.2,627.8 2071.6,629.5 2072.9,631.1 2074.3,632.7 2075.7,634.3 2077.1,636.0 2078.5,637.6 2080.0,639.1 2081.4,640.5 2082.9,642.0 2084.3,643.8 2085.8,645.9 2087.2,648.6 2088.4,652.8 2089.7,659.1 2090.9,665.5 2092.2,670.3 2093.5,673.2 2094.8,675.4 2096.2,677.3 2097.5,679.6 2098.8,682.8 2099.9,687.2 2100.9,693.3 2102.0,700.0 2103.2,709.7 2104.3,720.1 2105.5,725.0 2106.8,715.7 2108.0,700.0 2109.2,683.3 2110.5,673.0 2112.0,673.8 2113.5,675.8 2115.0,678.0 2116.3,680.5 2117.6,683.2 2118.9,684.5 2120.2,683.3 2121.6,680.5 2122.9,677.1 2124.3,674.3 2125.6,673.1 2127.0,673.6 2128.4,675.0 2129.8,677.0 2131.1,679.4 2132.5,682.0 2133.9,684.5 2135.2,687.0 2136.6,689.9 2137.9,693.1 2139.3,696.6 2140.6,700.4 2141.9,704.3 2143.3,708.3 2144.6,713.0 2146.0,718.5 2147.3,725.4 2148.5,734.7 2149.6,747.3 2150.8,760.0 2151.8,770.7 2152.9,781.5 2153.9,791.0 2155.1,799.7 2156.2,807.5 2157.3,814.8 2158.5,822.2 2159.7,830.2 2160.8,838.3 2162.0,846.1 2163.2,853.3 2164.4,860.4 2165.7,867.2 2166.9,873.5 2168.2,879.3 2169.4,884.4 2170.8,889.3 2172.1,893.9 2173.5,898.2 2174.9,902.1 2176.2,905.8 2177.6,909.3 2178.9,912.5 2180.3,915.5 2181.7,918.4 2183.1,921.0 2184.5,923.4 2185.9,925.7 2187.3,928.0 2188.7,930.1 2190.1,932.2 2191.5,934.3 2192.9,936.5 2194.3,938.8 2195.7,941.1 2197.1,943.4 2198.5,945.7 2199.9,948.0 2201.3,950.4 2202.7,952.7 2204.1,955.0 2205.5,957.3 2206.9,959.7 2208.3,962.1 2209.8,964.6 2211.2,967.0 2212.7,969.3 2214.2,971.7 2215.6,974.2 2217.1,976.7 2218.6,979.4 2220.0,982.3 2221.5,985.5 2222.9,989.0 2224.3,992.9 2225.7,997.2 2227.1,1001.5 2228.5,1005.7" fill="none" stroke="#FF4145" stroke-width="11" stroke-linejoin="round" stroke-linecap="butt"/>
<polyline points="204.0,484.5 205.4,484.3 206.9,484.2 208.3,484.0 209.8,483.8 211.2,483.7 212.7,483.5 214.1,483.3 215.6,483.2 217.0,483.0 218.4,482.8 219.9,482.6 221.3,482.5 222.8,482.3 224.2,482.1 225.7,482.0 227.1,481.8 228.6,481.7 230.0,481.5 231.4,481.3 232.9,481.2 234.3,481.0 235.7,480.9 237.1,480.7 238.6,480.6 240.0,480.4 241.4,480.3 242.8,480.1 244.3,479.9 245.7,479.8 247.1,479.6 248.6,479.5 250.0,479.4 251.4,479.2 252.8,479.1 254.3,478.9 255.7,478.8 257.2,478.7 258.7,478.5 260.2,478.4 261.6,478.3 263.1,478.1 264.6,478.0 266.1,477.9 267.6,477.7 269.1,477.6 270.5,477.5 272.0,477.4 273.5,477.3 275.0,477.1 276.5,477.0 278.0,476.9 279.4,476.8 280.9,476.7 282.4,476.5 283.9,476.4 285.4,476.3 286.9,476.2 288.3,476.1 289.8,475.9 291.3,475.8 292.8,475.7 294.3,475.6 295.8,475.5 297.3,475.4 298.8,475.2 300.2,475.1 301.7,475.0 303.2,474.9 304.7,474.8 306.2,474.7 307.7,474.6 309.2,474.5 310.7,474.4 312.1,474.3 313.6,474.2 315.1,474.1 316.6,474.0 318.1,473.8 319.6,473.7 321.1,473.6 322.6,473.5 324.0,473.3 325.5,473.2 327.0,473.0 328.5,472.9 330.0,472.7 331.5,472.5 333.0,472.2 334.4,471.9 335.9,471.6 337.4,471.3 338.9,471.0 340.4,470.7 341.8,470.5 343.3,470.4 344.8,470.3 346.2,470.3 347.6,470.3 349.0,470.3 350.4,470.4 351.8,470.4 353.1,470.4 354.5,470.5 355.9,470.6 357.3,470.6 358.7,470.7 360.1,470.8 361.5,470.9 362.9,471.3 364.2,472.0 365.6,472.6 367.0,472.9 368.4,472.9 369.9,472.9 371.3,472.9 372.7,472.9 374.2,472.9 375.6,472.9 377.0,472.9 378.4,472.9 379.9,472.9 381.3,472.9 382.7,472.9 384.2,472.9 385.6,472.9 387.0,472.9 388.4,472.9 389.8,473.0 391.3,473.0 392.7,473.1 394.1,473.2 395.5,473.3 396.9,473.4 398.3,473.5 399.8,473.6 401.2,473.7 402.6,473.9 404.0,474.0 405.4,474.2 406.8,474.5 408.2,474.9 409.6,475.3 411.1,475.7 412.5,476.1 413.9,476.3 415.3,476.4 416.8,476.1 418.3,475.4 419.7,474.6 421.2,473.9 422.7,473.6 424.2,473.6 425.7,473.6 427.2,473.7 428.7,473.7 430.1,473.8 431.6,473.8 433.1,473.9 434.6,474.0 436.1,474.1 437.6,474.2 439.1,474.4 440.6,474.6 442.1,475.0 443.5,475.4 445.0,475.9 446.5,476.5 448.0,477.1 449.5,477.7 451.0,478.4 452.5,479.1 454.0,479.8 455.4,480.4 456.9,481.1 458.4,481.7 459.9,482.2 461.3,482.7 462.7,483.2 464.2,483.7 465.6,484.2 467.0,484.7 468.4,485.2 469.9,485.7 471.3,486.2 472.7,486.7 474.1,487.2 475.6,487.6 477.0,488.1 478.4,488.5 479.8,488.9 481.3,489.4 482.7,489.8 484.1,490.2 485.6,490.6 487.0,491.0 488.4,491.4 489.8,491.8 491.3,492.2 492.7,492.5 494.1,492.8 495.6,493.1 497.0,493.3 498.5,493.5 500.0,493.7 501.4,493.9 502.9,494.1 504.4,494.4 505.9,494.6 507.4,494.8 508.8,494.9 510.3,495.1 511.8,495.3 513.3,495.5 514.8,495.6 516.2,495.8 517.7,495.9 519.2,496.1 520.7,496.2 522.2,496.3 523.6,496.4 525.1,496.5 526.6,496.6 528.1,496.7 529.6,496.7 531.0,496.8 532.5,496.8 534.0,496.8 535.4,496.8 536.9,496.8 538.3,496.7 539.7,496.6 541.1,496.5 542.6,496.4 544.0,496.3 545.4,496.2 546.9,496.1 548.3,496.0 549.7,495.8 551.1,495.7 552.6,495.6 554.0,495.5 555.4,495.4 556.9,495.3 558.3,495.2 559.8,495.1 561.2,495.0 562.7,494.9 564.1,494.8 565.6,494.7 567.0,494.6 568.4,494.4 569.9,494.3 571.3,494.2 572.8,494.1 574.2,494.0 575.7,493.9 577.1,493.7 578.6,493.6 580.0,493.5 581.4,493.4 582.9,493.2 584.3,493.1 585.7,493.0 587.1,492.8 588.6,492.7 590.0,492.5 591.4,492.4 592.9,492.3 594.3,492.1 595.7,492.0 597.1,491.8 598.6,491.7 600.0,491.5 601.5,491.3 603.0,491.2 604.4,491.0 605.9,490.9 607.4,490.7 608.9,490.6 610.4,490.4 611.9,490.2 613.3,490.1 614.8,489.9 616.3,489.8 617.8,489.6 619.3,489.4 620.7,489.3 622.2,489.1 623.7,488.9 625.2,488.8 626.7,488.6 628.1,488.4 629.6,488.3 631.1,488.1 632.6,487.9 634.1,487.7 635.6,487.6 637.0,487.4 638.5,487.2 640.0,487.0 641.5,486.8 643.0,486.6 644.5,486.4 646.0,486.2 647.5,486.0 649.0,485.8 650.5,485.6 652.0,485.4 653.5,485.2 655.0,485.0 656.5,484.7 658.0,484.5 659.5,484.3 661.0,484.0 662.5,483.7 664.0,483.5 665.5,483.2 667.0,482.9 668.5,482.7 670.0,482.4 671.5,482.1 673.0,481.8 674.5,481.5 676.0,481.2 677.5,480.9 679.0,480.6 680.5,480.3 682.0,479.9 683.5,479.6 685.0,479.3 686.5,479.0 688.0,478.6 689.5,478.3 691.0,478.0 692.5,477.6 694.0,477.3 695.5,477.0 697.0,476.6 698.5,476.3 700.0,475.9 701.5,475.6 703.0,475.2 704.5,474.9 706.0,474.5 707.5,474.2 709.0,473.9 710.5,473.5 712.0,473.2 713.5,472.8 715.0,472.5 716.5,472.1 718.0,471.8 719.5,471.4 721.0,471.1 722.5,470.8 724.0,470.4 725.5,470.1 727.0,469.7 728.5,469.4 730.0,469.1 731.5,468.8 733.0,468.4 734.5,468.1 736.0,467.8 737.5,467.5 739.0,467.2 740.5,466.9 742.0,466.6 743.5,466.3 745.0,466.0 746.5,465.7 748.0,465.4 749.5,465.1 751.0,464.8 752.5,464.5 754.0,464.2 755.5,463.9 757.0,463.6 758.5,463.4 760.0,463.1 761.5,462.8 763.0,462.5 764.5,462.2 766.0,461.9 767.5,461.7 769.0,461.4 770.5,461.1 772.0,460.8 773.5,460.5 775.0,460.2 776.5,459.9 778.0,459.7 779.5,459.4 781.0,459.1 782.5,458.8 784.0,458.5 785.5,458.2 787.0,457.9 788.5,457.6 790.0,457.3 791.5,457.0 793.0,456.6 794.5,456.3 796.0,456.0 797.5,455.7 799.0,455.3 800.5,455.0 802.0,454.7 803.5,454.3 805.0,454.0 806.5,453.6 808.0,453.3 809.5,452.9 811.0,452.6 812.5,452.2 814.0,451.8 815.5,451.4 817.0,451.0 818.5,450.6 820.0,450.2 821.5,449.8 823.0,449.4 824.5,448.9 826.0,448.5 827.5,448.0 829.0,447.6 830.5,447.1 832.0,446.6 833.5,446.1 834.9,445.6 836.4,445.1 837.9,444.6 839.4,444.1 840.9,443.6 842.4,443.1 843.9,442.6 845.4,442.1 846.9,441.6 848.4,441.0 849.9,440.5 851.4,440.0 852.9,439.5 854.4,438.9 855.9,438.4 857.4,437.8 858.9,437.3 860.4,436.8 861.9,436.2 863.4,435.7 864.9,435.1 866.4,434.6 867.9,434.1 869.4,433.5 870.9,433.0 872.3,432.5 873.8,431.9 875.3,431.4 876.8,430.9 878.3,430.4 879.8,429.9 881.3,429.3 882.8,428.8 884.3,428.3 885.8,427.8 887.3,427.3 888.8,426.9 890.3,426.4 891.8,425.9 893.3,425.4 894.8,425.0 896.3,424.5 897.8,424.0 899.3,423.5 900.8,423.1 902.3,422.6 903.8,422.1 905.3,421.7 906.8,421.2 908.3,420.7 909.8,420.3 911.3,419.8 912.8,419.3 914.3,418.9 915.8,418.4 917.3,418.0 918.8,417.5 920.3,417.0 921.8,416.6 923.3,416.1 924.8,415.7 926.3,415.2 927.8,414.7 929.3,414.3 930.8,413.8 932.3,413.4 933.8,412.9 935.3,412.5 936.8,412.0 938.3,411.6 939.8,411.1 941.3,410.7 942.8,410.3 944.3,409.8 945.8,409.4 947.3,408.9 948.8,408.5 950.3,408.1 951.8,407.6 953.3,407.2 954.8,406.8 956.3,406.3 957.8,405.9 959.3,405.5 960.8,405.0 962.3,404.6 963.8,404.2 965.3,403.8 966.8,403.3 968.3,402.9 969.8,402.5 971.2,402.1 972.7,401.7 974.1,401.3 975.6,400.9 977.0,400.6 978.4,400.2 979.9,399.8 981.3,399.4 982.7,399.1 984.2,398.7 985.6,398.3 987.1,398.0 988.5,397.6 989.9,397.2 991.4,396.9 992.8,396.5 994.2,396.1 995.7,395.7 997.1,395.3 998.6,394.9 1000.0,394.5 1001.5,394.1 1003.0,393.6 1004.5,393.2 1006.0,392.8 1007.5,392.3 1009.0,391.9 1010.5,391.5 1012.0,391.0 1013.5,390.6 1015.0,390.1 1016.5,389.7 1018.0,389.2 1019.5,388.8 1021.0,388.4 1022.5,387.9 1023.9,387.4 1025.4,387.0 1026.9,386.5 1028.4,386.1 1029.9,385.6 1031.4,385.2 1032.9,384.7 1034.4,384.2 1035.9,383.8 1037.4,383.3 1038.9,382.8 1040.4,382.3 1041.9,381.9 1043.4,381.4 1044.9,380.9 1046.4,380.4 1047.9,380.0 1049.4,379.5 1050.9,379.0 1052.4,378.5 1053.9,378.0 1055.4,377.5 1056.9,377.0 1058.4,376.5 1059.9,376.0 1061.4,375.5 1062.9,375.0 1064.4,374.5 1065.9,374.0 1067.4,373.5 1068.9,373.0 1070.3,372.5 1071.8,372.0 1073.3,371.4 1074.8,370.9 1076.3,370.4 1077.8,369.9 1079.3,369.4 1080.8,368.8 1082.3,368.3 1083.8,367.8 1085.3,367.2 1086.8,366.7 1088.3,366.1 1089.8,365.6 1091.3,365.0 1092.8,364.5 1094.3,363.9 1095.8,363.4 1097.3,362.8 1098.8,362.3 1100.3,361.7 1101.8,361.1 1103.3,360.5 1104.8,359.9 1106.3,359.3 1107.8,358.7 1109.3,358.1 1110.8,357.5 1112.3,356.9 1113.8,356.3 1115.3,355.7 1116.7,355.1 1118.2,354.4 1119.7,353.8 1121.2,353.2 1122.7,352.6 1124.2,351.9 1125.7,351.3 1127.2,350.6 1128.7,350.0 1130.2,349.3 1131.7,348.7 1133.2,348.0 1134.7,347.4 1136.2,346.7 1137.7,346.1 1139.2,345.4 1140.7,344.8 1142.2,344.1 1143.7,343.4 1145.2,342.8 1146.7,342.1 1148.2,341.4 1149.7,340.8 1151.2,340.1 1152.7,339.4 1154.2,338.8 1155.7,338.1 1157.2,337.4 1158.7,336.8 1160.2,336.1 1161.7,335.5 1163.1,334.8 1164.6,334.1 1166.1,333.5 1167.6,332.8 1169.1,332.1 1170.6,331.5 1172.1,330.8 1173.6,330.2 1175.1,329.5 1176.6,328.9 1178.1,328.2 1179.6,327.6 1181.1,326.9 1182.6,326.3 1184.1,325.6 1185.6,325.0 1187.1,324.4 1188.6,323.7 1190.1,323.1 1191.6,322.5 1193.1,321.8 1194.6,321.2 1196.1,320.6 1197.6,319.9 1199.1,319.3 1200.6,318.7 1202.1,318.1 1203.6,317.4 1205.1,316.8 1206.6,316.2 1208.1,315.6 1209.5,314.9 1211.0,314.3 1212.5,313.7 1214.0,313.1 1215.5,312.4 1217.0,311.8 1218.5,311.2 1220.0,310.6 1221.5,309.9 1223.0,309.3 1224.5,308.7 1226.0,308.1 1227.5,307.4 1229.0,306.8 1230.5,306.2 1232.0,305.6 1233.5,304.9 1235.0,304.3 1236.5,303.7 1238.0,303.0 1239.5,302.4 1241.0,301.8 1242.5,301.1 1244.0,300.5 1245.5,299.9 1247.0,299.2 1248.5,298.6 1250.0,298.0 1251.5,297.3 1253.0,296.7 1254.5,296.1 1255.9,295.4 1257.4,294.8 1258.9,294.1 1260.4,293.5 1261.9,292.8 1263.4,292.2 1264.9,291.5 1266.4,290.9 1267.9,290.2 1269.4,289.6 1270.9,288.9 1272.4,288.3 1273.9,287.6 1275.4,286.9 1276.9,286.3 1278.4,285.6 1279.8,285.0 1281.3,284.3 1282.7,283.7 1284.2,283.0 1285.6,282.4 1287.0,281.7 1288.5,281.0 1289.9,280.4 1291.4,279.7 1292.8,279.0 1294.2,278.3 1295.7,277.7 1297.1,277.0 1298.6,276.3 1300.0,275.6 1301.5,274.9 1303.0,274.1 1304.5,273.4 1306.0,272.7 1307.5,271.9 1309.0,271.2 1310.5,270.5 1312.0,269.7 1313.5,269.0 1315.0,268.2 1316.5,267.5 1318.0,266.7 1319.4,265.9 1320.9,265.2 1322.4,264.4 1323.9,263.6 1325.4,262.9 1326.9,262.1 1328.4,261.3 1329.9,260.5 1331.4,259.7 1332.9,258.9 1334.4,258.1 1335.9,257.3 1337.4,256.5 1338.9,255.7 1340.4,254.9 1341.9,254.0 1343.4,253.2 1344.9,252.3 1346.4,251.4 1347.9,250.6 1349.4,249.7 1350.9,248.8 1352.4,247.9 1353.9,247.0 1355.4,246.1 1356.9,245.3 1358.4,244.4 1359.9,243.5 1361.4,242.6 1362.9,241.7 1364.4,240.8 1365.9,240.0 1367.4,239.1 1368.9,238.2 1370.4,237.4 1371.9,236.5 1373.4,235.7 1374.9,234.9 1376.4,234.1 1377.9,233.3 1379.3,232.6 1380.8,231.8 1382.3,231.1 1383.8,230.3 1385.2,229.6 1386.7,228.8 1388.2,228.1 1389.7,227.4 1391.1,226.6 1392.6,225.9 1394.1,225.1 1395.6,224.4 1397.0,223.6 1398.5,222.8 1400.0,222.0 1401.4,221.3 1402.7,220.5 1404.1,219.7 1405.5,219.0 1406.8,218.2 1408.2,217.4 1409.6,216.6 1410.9,215.8 1412.3,214.9 1413.7,214.0 1415.1,213.1 1416.5,212.1 1417.9,211.1 1419.3,210.1 1420.7,209.1 1422.1,208.1 1423.6,207.0 1425.0,205.9 1426.4,204.9 1427.8,203.8 1429.2,202.7 1430.6,201.7 1432.0,200.6 1433.4,199.5 1434.9,198.3 1436.4,197.1 1437.8,195.9 1439.3,194.6 1440.8,193.4 1442.3,192.1 1443.8,190.9 1445.3,189.7 1446.7,188.6 1448.2,187.5 1449.7,186.5 1451.1,185.6 1452.5,184.8 1454.0,184.1 1455.4,183.3 1456.8,182.6 1458.2,181.9 1459.7,181.3 1461.1,180.6 1462.5,179.9 1464.0,179.1 1465.4,178.3 1466.8,177.5 1468.2,176.6 1469.6,175.6 1471.0,174.6 1472.4,173.6 1473.8,172.5 1475.2,171.4 1476.5,170.3 1477.9,169.2 1479.3,168.2 1480.7,167.2 1482.1,166.3 1483.5,165.4 1484.9,164.6 1486.3,163.9 1487.7,163.2 1489.1,162.6 1490.5,161.9 1491.9,161.2 1493.4,160.4 1494.9,159.4 1496.4,158.4 1497.9,157.4 1499.4,156.3 1500.9,155.4 1502.4,154.6 1503.9,154.0 1505.4,153.5 1506.9,153.4 1508.3,153.5 1509.8,153.8 1511.2,154.2 1512.6,154.8 1514.0,155.4 1515.5,156.0 1516.9,156.7 1518.3,157.4 1519.7,158.2 1521.1,159.2 1522.5,160.2 1523.9,161.4 1525.3,162.6 1526.7,163.9 1528.1,165.4 1529.4,167.1 1530.8,169.0 1532.2,171.1 1533.6,173.4 1534.9,176.2 1536.2,179.7 1537.4,183.4 1538.7,186.8 1540.0,189.7 1541.3,192.4 1542.7,195.0 1544.0,197.8 1545.3,201.0 1546.5,204.7 1547.8,209.0 1549.0,213.5 1550.3,217.7 1551.6,221.8 1552.8,225.8 1554.1,229.5 1555.4,232.7 1556.8,235.9 1558.2,239.2 1559.6,242.3 1560.9,244.9 1562.3,246.7 1563.7,247.3 1565.2,247.2 1566.6,246.9 1568.1,246.5 1569.6,246.0 1571.0,245.4 1572.5,244.9 1573.9,244.3 1575.4,243.9 1576.8,243.5 1578.2,243.1 1579.6,242.6 1581.0,242.3 1582.4,242.0 1583.8,241.9 1585.3,242.0 1586.7,242.4 1588.2,242.8 1589.7,243.4 1591.1,243.9 1592.6,244.3 1594.0,244.7 1595.5,244.8 1597.0,244.8 1598.5,244.6 1599.9,244.4 1601.4,244.2 1602.9,243.8 1604.4,243.5 1605.8,243.1 1607.3,242.7 1608.8,242.3 1610.2,241.9 1611.6,241.4 1613.0,240.8 1614.4,240.1 1615.8,239.4 1617.2,238.6 1618.6,237.8 1620.0,236.8 1621.3,235.8 1622.7,234.7 1624.1,233.5 1625.5,232.2 1626.9,230.8 1628.3,229.2 1629.7,227.5 1631.1,225.7 1632.5,223.8 1633.9,221.9 1635.3,219.9 1636.7,217.7 1638.1,215.4 1639.4,213.1 1640.8,210.8 1642.2,208.5 1643.6,206.2 1645.0,203.9 1646.4,201.6 1647.8,199.4 1649.2,197.2 1650.6,195.2 1652.0,193.4 1653.4,191.7 1654.8,190.0 1656.1,188.4 1657.5,186.8 1658.9,185.1 1660.3,183.3 1661.7,181.4 1663.1,179.5 1664.5,177.6 1665.9,175.9 1667.3,174.3 1668.7,172.7 1670.2,171.0 1671.6,169.3 1673.0,167.8 1674.4,166.5 1675.9,165.7 1677.3,165.4 1678.7,165.4 1680.2,165.5 1681.6,165.7 1683.0,165.9 1684.4,166.1 1685.9,166.4 1687.3,166.8 1688.5,167.6 1689.8,169.2 1691.0,171.5 1692.3,174.3 1693.4,180.0 1694.6,187.9 1695.7,191.8 1697.0,191.5 1698.2,190.9 1699.5,190.4 1700.7,190.1 1702.0,190.1 1703.2,190.2 1704.5,190.3 1705.7,190.5 1707.0,191.2 1708.4,192.9 1709.7,195.1 1711.1,197.7 1712.4,200.2 1713.7,202.8 1714.9,205.9 1716.2,209.1 1717.4,211.9 1718.8,214.6 1720.2,217.2 1721.6,219.6 1723.0,221.9 1724.4,224.1 1725.8,226.1 1727.2,228.1 1728.6,230.1 1729.9,232.0 1731.3,233.7 1732.7,235.1 1734.1,236.1 1735.4,236.8 1736.8,237.5 1738.1,238.1 1739.5,238.5 1740.8,238.6 1742.3,238.4 1743.8,237.9 1745.3,237.0 1746.8,236.0 1748.2,234.8 1749.7,233.4 1751.2,232.0 1752.7,230.6 1754.2,229.2 1755.7,228.0 1757.2,226.7 1758.6,225.2 1760.1,223.5 1761.5,221.8 1763.0,220.2 1764.5,218.6 1765.9,217.2 1767.4,216.2 1768.8,215.5 1770.3,215.2 1771.8,215.5 1773.3,216.3 1774.8,217.5 1776.2,219.0 1777.7,220.7 1779.2,222.5 1780.7,224.8 1782.1,227.8 1783.5,231.6 1785.0,235.8 1786.5,241.4 1788.0,248.4 1789.4,256.0 1790.9,263.2 1792.4,270.1 1793.8,277.0 1795.3,283.6 1796.8,289.6 1798.1,294.2 1799.4,298.5 1800.7,302.5 1802.0,306.4 1803.3,310.2 1804.6,314.1 1805.9,318.0 1807.2,321.8 1808.5,325.5 1809.8,329.2 1811.1,332.9 1812.4,336.6 1813.7,340.5 1815.0,344.7 1816.3,348.8 1817.7,352.8 1819.0,356.3 1820.3,359.1 1821.6,361.2 1822.9,362.9 1824.2,364.4 1825.5,365.9 1826.8,367.7 1828.1,369.9 1829.4,372.9 1830.7,376.7 1832.0,381.0 1833.3,385.7 1834.6,390.5 1835.9,395.3 1837.2,400.2 1838.5,405.4 1839.8,410.9 1841.2,416.3 1842.5,421.6 1843.8,426.7 1845.1,431.6 1846.4,436.5 1847.7,441.4 1849.0,446.0 1850.3,450.3 1851.6,454.1 1853.0,457.9 1854.4,461.6 1855.8,465.1 1857.2,468.4 1858.6,471.3 1860.0,473.7 1861.4,475.6 1862.9,477.1 1864.3,478.4 1865.8,479.5 1867.2,480.5 1868.7,481.4 1870.2,482.3 1871.6,483.3 1873.1,484.4 1874.6,485.7 1876.0,487.1 1877.5,488.5 1879.0,490.0 1880.5,491.4 1882.0,492.6 1883.4,493.5 1884.9,494.2 1886.3,494.6 1887.7,495.1 1889.1,495.4 1890.5,495.7 1891.9,496.0 1893.3,496.1 1894.7,496.2 1896.1,496.0 1897.5,495.5 1898.9,494.6 1900.2,493.5 1901.6,492.3 1903.0,490.8 1904.4,489.3 1905.7,487.4 1907.0,484.8 1908.3,481.6 1909.7,478.0 1911.0,473.9 1912.3,469.7 1913.8,464.2 1915.2,457.6 1916.7,450.1 1918.2,442.3 1919.7,434.0 1921.1,424.8 1922.5,415.0 1924.0,405.1 1925.3,395.8 1926.7,386.0 1928.0,375.8 1929.3,364.4 1930.6,352.5 1931.9,342.5 1933.4,333.9 1934.8,326.4 1936.2,319.8 1937.7,314.1 1939.0,309.5 1940.3,305.3 1941.7,301.5 1943.0,298.0 1944.3,294.7 1945.6,291.6 1947.0,288.5 1948.4,285.6 1949.8,282.9 1951.1,280.4 1952.5,277.9 1953.9,275.4 1955.3,273.0 1956.8,270.6 1958.2,268.4 1959.7,266.3 1961.1,264.2 1962.6,261.9 1964.0,259.4 1965.5,256.5 1966.9,253.2 1968.2,249.2 1969.6,244.8 1971.0,240.0 1972.4,234.0 1973.8,226.9 1975.1,220.4 1976.5,216.0 1977.9,213.5 1979.4,211.7 1980.8,210.3 1982.3,209.1 1983.8,208.1 1985.3,207.2 1986.8,206.3 1988.3,205.3 1989.8,203.9 1991.2,202.2 1992.7,200.5 1994.1,199.2 1995.6,198.7 1996.8,199.2 1998.1,200.5 1999.3,202.0 2000.6,203.3 2001.8,203.8 2003.2,203.6 2004.7,203.2 2006.1,202.6 2007.5,201.9 2008.9,201.3 2010.3,200.7 2011.8,200.3 2013.2,200.1 2014.6,200.3 2016.0,200.9 2017.3,201.9 2018.7,203.3 2020.1,205.0 2021.5,207.0 2022.5,210.0 2023.6,215.2 2024.6,221.5 2026.0,233.0 2027.3,248.0 2028.7,262.9 2029.7,275.4 2030.8,287.8 2031.8,293.4 2032.9,292.0 2033.9,288.8 2035.0,285.0 2036.5,276.8 2038.0,271.2 2039.3,272.3 2040.5,274.9 2041.8,277.9 2043.0,280.5 2044.3,281.6 2045.5,279.1 2046.8,273.1 2048.0,265.7 2049.3,258.8 2050.5,254.6 2051.8,252.4 2053.1,250.6 2054.4,249.3 2055.7,248.8 2057.0,249.0 2058.4,249.5 2059.7,250.2 2061.0,251.2 2062.3,252.3 2063.7,253.4 2065.0,254.6 2066.4,256.0 2067.8,257.8 2069.2,259.8 2070.5,261.9 2071.9,264.0 2073.3,266.0 2074.7,267.8 2076.1,269.6 2077.4,271.4 2078.8,273.3 2080.2,275.2 2081.6,277.4 2082.8,279.5 2084.1,281.6 2085.3,284.0 2086.6,286.7 2087.8,289.9 2089.2,296.0 2090.6,303.4 2092.0,307.5 2093.4,308.2 2094.8,308.6 2096.2,308.8 2097.5,309.1 2098.9,309.4 2100.3,310.0 2101.5,311.4 2102.8,313.8 2104.0,316.6 2105.3,319.0 2106.5,320.4 2107.9,321.0 2109.3,321.4 2110.7,321.8 2112.0,322.1 2113.4,322.4 2114.8,323.0 2116.3,324.0 2117.7,325.4 2119.2,327.3 2120.7,329.4 2122.2,331.7 2123.6,334.1 2125.1,336.5 2126.5,338.8 2127.9,341.4 2129.2,344.1 2130.6,347.1 2132.0,350.5 2133.4,354.2 2134.7,358.3 2135.9,363.3 2137.2,368.8 2138.4,374.5 2139.7,380.0 2140.9,385.1 2142.2,390.0 2143.4,395.1 2144.7,400.7 2145.9,407.0 2147.3,415.8 2148.6,426.0 2150.0,436.0 2151.4,446.1 2152.8,456.0 2154.2,464.0 2155.4,469.5 2156.7,474.5 2157.9,478.8 2159.2,482.6 2160.4,485.8 2161.8,488.9 2163.2,491.8 2164.6,494.3 2165.9,496.6 2167.3,498.6 2168.7,500.3 2170.2,502.0 2171.6,503.6 2173.1,505.2 2174.6,506.6 2176.1,507.7 2177.5,508.5 2179.0,509.0 2180.4,509.2 2181.9,509.4 2183.3,509.5 2184.8,509.7 2186.2,509.7 2187.6,509.8 2189.1,509.9 2190.5,510.0 2191.9,510.0 2193.4,510.2 2194.8,510.3 2196.3,510.5 2197.7,510.7 2199.2,511.2 2200.6,512.2 2202.1,513.5 2203.6,514.9 2205.1,516.4 2206.5,517.8 2208.0,519.0 2209.5,520.1 2211.0,521.4 2212.5,522.6 2213.9,523.8 2215.4,524.7 2216.9,525.4 2218.4,525.6 2219.9,525.5 2221.4,525.1 2222.9,524.6 2224.3,523.9 2225.8,523.2 2227.3,522.6 2228.8,522.0" fill="none" stroke="#026CE4" stroke-width="11" stroke-linejoin="round" stroke-linecap="butt"/>
<line x1="1743.5" y1="241" x2="1743.5" y2="366" stroke="#000" stroke-width="10" stroke-dasharray="12.3 11.3"/>
<line x1="2116" y1="315.5" x2="2116" y2="461" stroke="#000" stroke-width="10" stroke-dasharray="12.3 11.3"/>
<line x1="386.3" y1="1193.4" x2="386.3" y2="1297.7" stroke="#000" stroke-width="10" stroke-dasharray="12.3 11.3"/>
<line x1="528.9" y1="1145.1" x2="528.9" y2="1251.9" stroke="#000" stroke-width="10" stroke-dasharray="12.3 11.3"/>
<line x1="369.5" y1="1336.6" x2="366" y2="1483.9" stroke="#000" stroke-width="10" stroke-dasharray="12.3 11.3"/>
<line x1="419" y1="1317.3" x2="421.7" y2="1415.4" stroke="#000" stroke-width="10" stroke-dasharray="12.3 11.3"/>
<line x1="1549.9" y1="1020.1" x2="1549.9" y2="1149.6" stroke="#000" stroke-width="10" stroke-dasharray="12.3 11.3"/>
<line x1="1933.8" y1="1214.3" x2="1933.8" y2="1335.7" stroke="#000" stroke-width="10" stroke-dasharray="12.3 11.3"/>
<line x1="2034.1" y1="1087" x2="2034.1" y2="1287.9" stroke="#000" stroke-width="10" stroke-dasharray="12.3 11.3"/>
<line x1="2053.2" y1="1235.2" x2="2053.2" y2="1307" stroke="#000" stroke-width="10" stroke-dasharray="12.3 11.3"/>
<line x1="2093.6" y1="1152.1" x2="2093.6" y2="1255.7" stroke="#000" stroke-width="10" stroke-dasharray="12.3 11.3"/>
<line x1="2121.5" y1="1235.2" x2="2121.5" y2="1342.3" stroke="#000" stroke-width="10" stroke-dasharray="12.3 11.3"/>
<line x1="2174.8" y1="1389" x2="2174.8" y2="1473.7" stroke="#000" stroke-width="10" stroke-dasharray="12.3 11.3"/>
<text transform="translate(560.1,486.9) scale(1.0,1.06)" font-size="56.3" text-anchor="middle">3405</text>
<text transform="translate(1541.8,325.0) scale(1.0,1.06)" font-size="56.3" text-anchor="middle">1617</text>
<text transform="translate(1748.8,422.7) scale(1.0,1.06)" font-size="56.3" text-anchor="middle">1306</text>
<text transform="translate(2028.4,355.0) scale(0.965,1.06)" font-size="52.5" text-anchor="middle">798</text>
<text transform="translate(2075.3,247.0) scale(1.0,1.06)" font-size="56.3" text-anchor="middle">778</text>
<text transform="translate(2114.1,516.0) scale(1.0,1.06)" font-size="56.3" text-anchor="middle">668</text>
<text transform="translate(575.6,977.6) scale(1.0,1.06)" font-size="56.3" text-anchor="middle">3390</text>
<text transform="translate(1544.8,695.0) scale(0.94,1.06)" font-size="56.3" text-anchor="middle">1621</text>
<text transform="translate(1723.8,797.1) scale(1.0,1.06)" font-size="56.3" text-anchor="middle">1384</text>
<text transform="translate(2092.2,785.6) scale(1.0,1.06)" font-size="56.3" text-anchor="middle">668</text>
<text transform="translate(410.0,1175.6) scale(1.0,1.06)" font-size="56.3" text-anchor="middle">3653</text>
<text transform="translate(538.5,1138.3) scale(0.945,1.06)" font-size="56.3" text-anchor="middle">3441</text>
<text transform="translate(433.6,1459.8) scale(1.0,1.06)" font-size="56.3" text-anchor="middle">3620</text>
<text transform="translate(363.0,1526.8) scale(1.0,1.06)" font-size="56.3" text-anchor="middle">3696</text>
<text transform="translate(1550.7,1007.7) scale(0.948,1.06)" font-size="56.3" text-anchor="middle">1631</text>
<text transform="translate(1927.5,1201.6) scale(1.0,1.06)" font-size="56.3" text-anchor="middle">912</text>
<text transform="translate(2025.4,1067.9) scale(1.0,1.06)" font-size="53.5" text-anchor="middle">798</text>
<text transform="translate(2099.2,1132.2) scale(1.0,1.06)" font-size="56.3" text-anchor="middle">695</text>
<text transform="translate(2048.7,1350.4) scale(1.0,1.06)" font-size="56.3" text-anchor="middle">779</text>
<text transform="translate(2115.7,1403.6) scale(1.0,1.06)" font-size="56.3" text-anchor="middle">669</text>
<text transform="translate(2168.8,1519.0) scale(1.0,1.06)" font-size="56.3" text-anchor="middle">536</text>
<rect x="199" y="42.5" width="2033" height="1499" fill="none" stroke="#000" stroke-width="10.6"/>
<line x1="199.0" y1="1541" x2="199.0" y2="1571" stroke="#000" stroke-width="10"/>
<line x1="485.2" y1="1541" x2="485.2" y2="1571" stroke="#000" stroke-width="10"/>
<line x1="771.5" y1="1541" x2="771.5" y2="1571" stroke="#000" stroke-width="10"/>
<line x1="1057.8" y1="1541" x2="1057.8" y2="1571" stroke="#000" stroke-width="10"/>
<line x1="1344.0" y1="1541" x2="1344.0" y2="1571" stroke="#000" stroke-width="10"/>
<line x1="1630.2" y1="1541" x2="1630.2" y2="1571" stroke="#000" stroke-width="10"/>
<line x1="1916.5" y1="1541" x2="1916.5" y2="1571" stroke="#000" stroke-width="10"/>
<line x1="2202.8" y1="1541" x2="2202.8" y2="1571" stroke="#000" stroke-width="10"/>
<line x1="342.1" y1="1541" x2="342.1" y2="1556" stroke="#000" stroke-width="10"/>
<line x1="628.4" y1="1541" x2="628.4" y2="1556" stroke="#000" stroke-width="10"/>
<line x1="914.6" y1="1541" x2="914.6" y2="1556" stroke="#000" stroke-width="10"/>
<line x1="1200.9" y1="1541" x2="1200.9" y2="1556" stroke="#000" stroke-width="10"/>
<line x1="1487.1" y1="1541" x2="1487.1" y2="1556" stroke="#000" stroke-width="10"/>
<line x1="1773.4" y1="1541" x2="1773.4" y2="1556" stroke="#000" stroke-width="10"/>
<line x1="2059.6" y1="1541" x2="2059.6" y2="1556" stroke="#000" stroke-width="10"/>
<text x="199.0" y="1650.8" font-size="77.3" text-anchor="middle">4000</text>
<text x="485.2" y="1650.8" font-size="77.3" text-anchor="middle">3500</text>
<text x="771.5" y="1650.8" font-size="77.3" text-anchor="middle">3000</text>
<text x="1057.8" y="1650.8" font-size="77.3" text-anchor="middle">2500</text>
<text x="1344.0" y="1650.8" font-size="77.3" text-anchor="middle">2000</text>
<text x="1630.2" y="1650.8" font-size="77.3" text-anchor="middle">1500</text>
<text x="1916.5" y="1650.8" font-size="77.3" text-anchor="middle">1000</text>
<text x="2202.8" y="1650.8" font-size="77.3" text-anchor="middle">500</text>
<text transform="translate(751,1811.2) scale(1,1.02)" font-size="98.25">Wavenumber (cm<tspan font-size="67.8" dy="-39.8">−1</tspan><tspan dy="39.8">)</tspan></text>
<text transform="translate(96.2,1256.7) rotate(-90) scale(1,1.0)" font-size="98.25">Transmittance (a.u.)</text>
<line x1="266" y1="106.2" x2="439" y2="106.2" stroke="#026CE4" stroke-width="11" stroke-linecap="round"/>
<text transform="translate(461,131.2) scale(0.989,1.05)" font-size="78">CeO<tspan font-size="53" dy="20">2</tspan><tspan dy="-20">-ATP</tspan></text>
<line x1="266" y1="221.2" x2="439" y2="221.2" stroke="#FF4145" stroke-width="11" stroke-linecap="round"/>
<text transform="translate(461,246.6) scale(1.0,1.05)" font-size="78">CeO<tspan font-size="53" dy="20">2</tspan></text>
<line x1="266" y1="337" x2="439" y2="337" stroke="#505050" stroke-width="11" stroke-linecap="round"/>
<text transform="translate(459,362.6) scale(1.0,1.05)" font-size="78">ATP</text>
</svg></body></html>
